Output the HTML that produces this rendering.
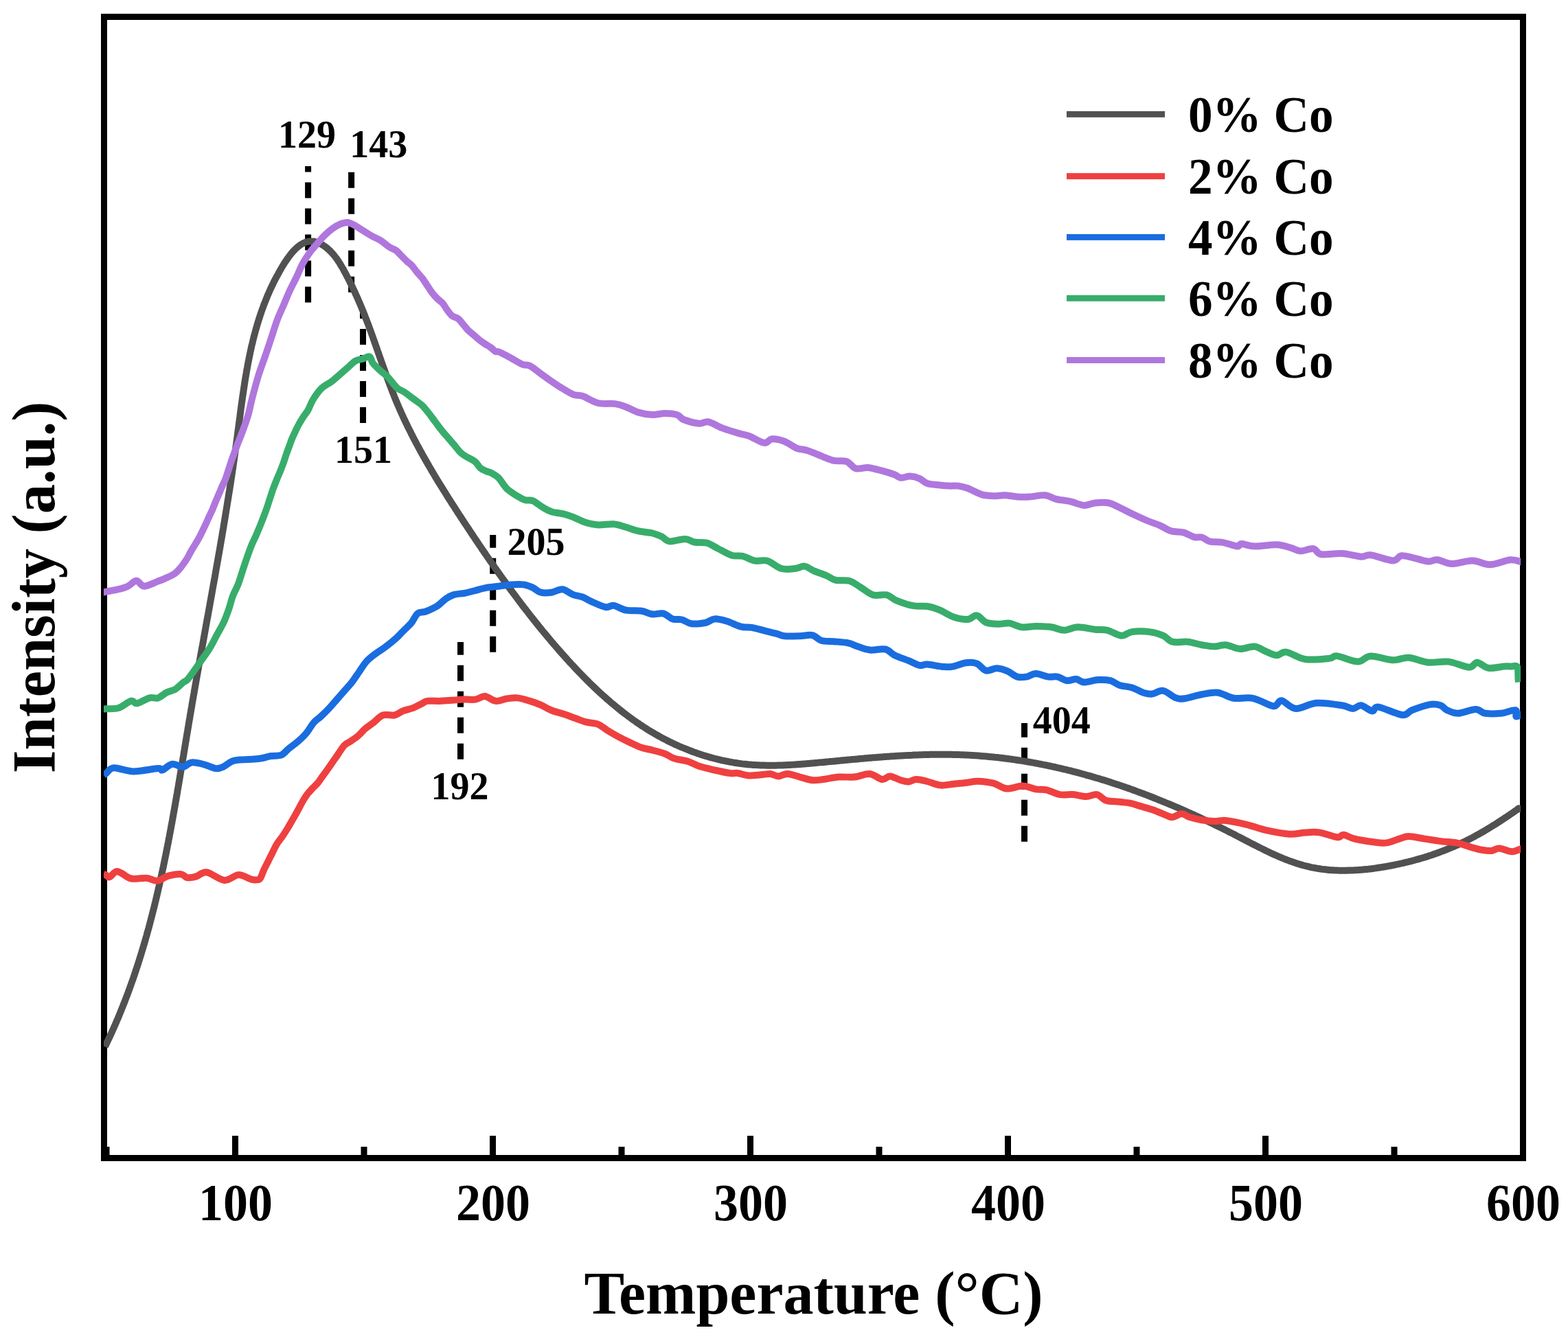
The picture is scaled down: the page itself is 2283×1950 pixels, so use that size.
<!DOCTYPE html>
<html><head><meta charset="utf-8"><title>TPR profiles</title>
<style>
html,body{margin:0;padding:0;background:#fff;overflow:hidden;}
svg{display:block;}
text{font-family:'Liberation Serif','Times New Roman',serif;font-weight:bold;fill:#000;}
</style></head><body>
<svg width="2283" height="1950" viewBox="0 0 2283 1950">
<rect x="0" y="0" width="2283" height="1950" fill="#fff"/>

<rect x="151.5" y="24.5" width="2066" height="1662" fill="none" stroke="#000" stroke-width="9"/>
<g stroke="#000" stroke-width="9" stroke-dasharray="23 15" fill="none">
<path d="M448.6,440.5 L448.6,242"/>
<path d="M511.6,425.8 L511.6,249.8"/>
<path d="M528.5,615.9 L528.5,453"/>
<path d="M670.5,1105.8 L670.5,935"/>
<path d="M717.7,949.7 L717.7,779"/>
<path d="M1491.5,1225.8 L1491.5,1053"/>
</g>
<defs><clipPath id="pc"><rect x="151" y="0" width="2063" height="1950"/></clipPath></defs>
<g fill="none" stroke-width="10" stroke-linejoin="round" stroke-linecap="square" clip-path="url(#pc)">
<path stroke="#515151" d="M155.0,1519.9 C155.3,1519.3 156.1,1517.5 156.7,1516.3 C157.3,1515.1 157.9,1513.8 158.4,1512.6 C159.0,1511.4 159.6,1510.2 160.1,1509.0 C160.7,1507.8 161.3,1506.5 161.8,1505.3 C162.4,1504.1 162.9,1502.9 163.5,1501.7 C164.0,1500.4 164.6,1499.2 165.1,1498.0 C165.7,1496.8 166.2,1495.5 166.8,1494.3 C167.3,1493.1 167.8,1491.9 168.4,1490.6 C168.9,1489.4 169.4,1488.2 170.0,1486.9 C170.5,1485.7 171.0,1484.5 171.5,1483.3 C172.0,1482.0 172.6,1480.8 173.1,1479.6 C173.6,1478.3 174.1,1477.1 174.6,1475.9 C175.1,1474.6 175.6,1473.4 176.1,1472.2 C176.6,1470.9 177.1,1469.7 177.6,1468.4 C178.1,1467.2 178.6,1466.0 179.1,1464.7 C179.6,1463.5 180.1,1462.2 180.6,1461.0 C181.1,1459.8 181.6,1458.5 182.0,1457.3 C182.5,1456.0 183.0,1454.8 183.5,1453.5 C183.9,1452.3 184.4,1451.0 184.9,1449.8 C185.4,1448.6 185.8,1447.3 186.3,1446.1 C186.8,1444.8 187.2,1443.6 187.7,1442.3 C188.1,1441.1 188.6,1439.8 189.0,1438.6 C189.5,1437.3 190.0,1436.1 190.4,1434.8 C190.8,1433.6 191.3,1432.3 191.7,1431.0 C192.2,1429.8 192.6,1428.5 193.1,1427.3 C193.5,1426.0 193.9,1424.8 194.4,1423.5 C194.8,1422.2 195.2,1421.0 195.7,1419.7 C196.1,1418.5 196.5,1417.2 196.9,1416.0 C197.4,1414.7 197.8,1413.4 198.2,1412.2 C198.6,1410.9 199.0,1409.6 199.5,1408.4 C199.9,1407.1 200.3,1405.8 200.7,1404.6 C201.1,1403.3 201.5,1402.1 201.9,1400.8 C202.3,1399.5 202.7,1398.3 203.1,1397.0 C203.5,1395.7 203.9,1394.5 204.3,1393.2 C204.7,1391.9 205.1,1390.6 205.5,1389.4 C205.9,1388.1 206.3,1386.8 206.6,1385.6 C207.0,1384.3 207.4,1383.0 207.8,1381.7 C208.2,1380.5 208.6,1379.2 208.9,1377.9 C209.3,1376.6 209.7,1375.4 210.1,1374.1 C210.4,1372.8 210.8,1371.5 211.2,1370.3 C211.5,1369.0 211.9,1367.7 212.3,1366.4 C212.6,1365.2 213.0,1363.9 213.4,1362.6 C213.7,1361.3 214.1,1360.0 214.4,1358.8 C214.8,1357.5 215.1,1356.2 215.5,1354.9 C215.9,1353.6 216.2,1352.4 216.6,1351.1 C216.9,1349.8 217.2,1348.5 217.6,1347.2 C217.9,1345.9 218.3,1344.7 218.6,1343.4 C219.0,1342.1 219.3,1340.8 219.6,1339.5 C220.0,1338.2 220.3,1336.9 220.6,1335.6 C221.0,1334.4 221.3,1333.1 221.6,1331.8 C222.0,1330.5 222.3,1329.2 222.6,1327.9 C222.9,1326.6 223.3,1325.3 223.6,1324.0 C223.9,1322.8 224.2,1321.5 224.6,1320.2 C224.9,1318.9 225.2,1317.6 225.5,1316.3 C225.8,1315.0 226.1,1313.7 226.5,1312.4 C226.8,1311.1 227.1,1309.8 227.4,1308.5 C227.7,1307.2 228.0,1306.0 228.3,1304.7 C228.6,1303.4 228.9,1302.1 229.2,1300.8 C229.5,1299.5 229.8,1298.2 230.1,1296.9 C230.4,1295.6 230.7,1294.3 231.0,1293.0 C231.3,1291.7 231.6,1290.4 231.9,1289.1 C232.2,1287.8 232.5,1286.5 232.8,1285.2 C233.1,1283.9 233.4,1282.6 233.6,1281.3 C233.9,1280.0 234.2,1278.7 234.5,1277.4 C234.8,1276.1 235.1,1274.8 235.4,1273.5 C235.6,1272.2 235.9,1270.9 236.2,1269.6 C236.5,1268.3 236.8,1267.0 237.0,1265.7 C237.3,1264.4 237.6,1263.1 237.9,1261.8 C238.1,1260.4 238.4,1259.1 238.7,1257.8 C239.0,1256.5 239.2,1255.2 239.5,1253.9 C239.8,1252.6 240.0,1251.3 240.3,1250.0 C240.6,1248.7 240.8,1247.4 241.1,1246.1 C241.4,1244.8 241.6,1243.5 241.9,1242.2 C242.1,1240.9 242.4,1239.5 242.7,1238.2 C242.9,1236.9 243.2,1235.6 243.4,1234.3 C243.7,1233.0 244.0,1231.7 244.2,1230.4 C244.5,1229.1 244.7,1227.8 245.0,1226.5 C245.2,1225.1 245.5,1223.8 245.7,1222.5 C246.0,1221.2 246.2,1219.9 246.5,1218.6 C246.7,1217.3 247.0,1216.0 247.2,1214.7 C247.5,1213.3 247.7,1212.0 248.0,1210.7 C248.2,1209.4 248.5,1208.1 248.7,1206.8 C249.0,1205.5 249.2,1204.2 249.4,1202.8 C249.7,1201.5 249.9,1200.2 250.2,1198.9 C250.4,1197.6 250.6,1196.3 250.9,1195.0 C251.1,1193.6 251.4,1192.3 251.6,1191.0 C251.8,1189.7 252.1,1188.4 252.3,1187.1 C252.5,1185.8 252.8,1184.4 253.0,1183.1 C253.2,1181.8 253.5,1180.5 253.7,1179.2 C253.9,1177.9 254.2,1176.6 254.4,1175.2 C254.6,1173.9 254.9,1172.6 255.1,1171.3 C255.3,1170.0 255.6,1168.7 255.8,1167.3 C256.0,1166.0 256.3,1164.7 256.5,1163.4 C256.7,1162.1 256.9,1160.8 257.2,1159.4 C257.4,1158.1 257.6,1156.8 257.9,1155.5 C258.1,1154.2 258.3,1152.9 258.5,1151.5 C258.8,1150.2 259.0,1148.9 259.2,1147.6 C259.4,1146.3 259.7,1145.0 259.9,1143.6 C260.1,1142.3 260.3,1141.0 260.5,1139.7 C260.8,1138.4 261.0,1137.0 261.2,1135.7 C261.4,1134.4 261.7,1133.1 261.9,1131.8 C262.1,1130.5 262.3,1129.1 262.5,1127.8 C262.8,1126.5 263.0,1125.2 263.2,1123.9 C263.4,1122.5 263.7,1121.2 263.9,1119.9 C264.1,1118.6 264.3,1117.3 264.5,1116.0 C264.7,1114.6 265.0,1113.3 265.2,1112.0 C265.4,1110.7 265.6,1109.4 265.8,1108.0 C266.1,1106.7 266.3,1105.4 266.5,1104.1 C266.7,1102.8 266.9,1101.4 267.2,1100.1 C267.4,1098.8 267.6,1097.5 267.8,1096.2 C268.0,1094.9 268.3,1093.5 268.5,1092.2 C268.7,1090.9 268.9,1089.6 269.1,1088.3 C269.3,1086.9 269.6,1085.6 269.8,1084.3 C270.0,1083.0 270.2,1081.7 270.4,1080.4 C270.7,1079.0 270.9,1077.7 271.1,1076.4 C271.3,1075.1 271.5,1073.8 271.7,1072.4 C272.0,1071.1 272.2,1069.8 272.4,1068.5 C272.6,1067.2 272.8,1065.9 273.1,1064.5 C273.3,1063.2 273.5,1061.9 273.7,1060.6 C273.9,1059.3 274.2,1058.0 274.4,1056.6 C274.6,1055.3 274.8,1054.0 275.0,1052.7 C275.3,1051.4 275.5,1050.1 275.7,1048.7 C275.9,1047.4 276.2,1046.1 276.4,1044.8 C276.6,1043.5 276.8,1042.2 277.0,1040.8 C277.3,1039.5 277.5,1038.2 277.7,1036.9 C277.9,1035.6 278.2,1034.3 278.4,1032.9 C278.6,1031.6 278.8,1030.3 279.1,1029.0 C279.3,1027.7 279.5,1026.4 279.7,1025.1 C280.0,1023.7 280.2,1022.4 280.4,1021.1 C280.6,1019.8 280.9,1018.5 281.1,1017.2 C281.3,1015.9 281.5,1014.5 281.8,1013.2 C282.0,1011.9 282.2,1010.6 282.5,1009.3 C282.7,1008.0 282.9,1006.7 283.1,1005.3 C283.4,1004.0 283.6,1002.7 283.8,1001.4 C284.1,1000.1 284.3,998.8 284.5,997.5 C284.8,996.2 285.0,994.8 285.2,993.5 C285.5,992.2 285.7,990.9 285.9,989.6 C286.1,988.3 286.4,987.0 286.6,985.7 C286.8,984.4 287.1,983.0 287.3,981.7 C287.5,980.4 287.8,979.1 288.0,977.8 C288.2,976.5 288.5,975.2 288.7,973.9 C288.9,972.5 289.2,971.2 289.4,969.9 C289.6,968.6 289.9,967.3 290.1,966.0 C290.3,964.7 290.6,963.4 290.8,962.1 C291.0,960.8 291.3,959.4 291.5,958.1 C291.8,956.8 292.0,955.5 292.2,954.2 C292.5,952.9 292.7,951.6 292.9,950.3 C293.2,949.0 293.4,947.6 293.6,946.3 C293.9,945.0 294.1,943.7 294.3,942.4 C294.6,941.1 294.8,939.8 295.1,938.5 C295.3,937.2 295.5,935.9 295.8,934.5 C296.0,933.2 296.2,931.9 296.5,930.6 C296.7,929.3 296.9,928.0 297.2,926.7 C297.4,925.4 297.7,924.1 297.9,922.8 C298.1,921.5 298.4,920.1 298.6,918.8 C298.8,917.5 299.1,916.2 299.3,914.9 C299.5,913.6 299.8,912.3 300.0,911.0 C300.3,909.7 300.5,908.4 300.7,907.1 C301.0,905.7 301.2,904.4 301.4,903.1 C301.7,901.8 301.9,900.5 302.2,899.2 C302.4,897.9 302.6,896.6 302.9,895.3 C303.1,894.0 303.3,892.7 303.6,891.3 C303.8,890.0 304.0,888.7 304.3,887.4 C304.5,886.1 304.8,884.8 305.0,883.5 C305.2,882.2 305.5,880.9 305.7,879.6 C305.9,878.3 306.2,876.9 306.4,875.6 C306.6,874.3 306.9,873.0 307.1,871.7 C307.4,870.4 307.6,869.1 307.8,867.8 C308.1,866.5 308.3,865.2 308.5,863.9 C308.8,862.5 309.0,861.2 309.2,859.9 C309.5,858.6 309.7,857.3 309.9,856.0 C310.2,854.7 310.4,853.4 310.6,852.1 C310.9,850.8 311.1,849.5 311.4,848.1 C311.6,846.8 311.8,845.5 312.1,844.2 C312.3,842.9 312.5,841.6 312.8,840.3 C313.0,839.0 313.2,837.7 313.5,836.4 C313.7,835.0 313.9,833.7 314.1,832.4 C314.4,831.1 314.6,829.8 314.8,828.5 C315.1,827.2 315.3,825.9 315.5,824.6 C315.8,823.3 316.0,821.9 316.2,820.6 C316.5,819.3 316.7,818.0 316.9,816.7 C317.2,815.4 317.4,814.1 317.6,812.8 C317.8,811.5 318.1,810.2 318.3,808.8 C318.5,807.5 318.8,806.2 319.0,804.9 C319.2,803.6 319.4,802.3 319.7,801.0 C319.9,799.7 320.1,798.4 320.4,797.0 C320.6,795.7 320.8,794.4 321.0,793.1 C321.3,791.8 321.5,790.5 321.7,789.2 C321.9,787.9 322.2,786.6 322.4,785.2 C322.6,783.9 322.8,782.6 323.1,781.3 C323.3,780.0 323.5,778.7 323.7,777.4 C323.9,776.1 324.2,774.7 324.4,773.4 C324.6,772.1 324.8,770.8 325.1,769.5 C325.3,768.2 325.5,766.9 325.7,765.5 C325.9,764.2 326.2,762.9 326.4,761.6 C326.6,760.3 326.8,759.0 327.0,757.7 C327.3,756.4 327.5,755.0 327.7,753.7 C327.9,752.4 328.1,751.1 328.3,749.8 C328.6,748.5 328.8,747.2 329.0,745.8 C329.2,744.5 329.4,743.2 329.6,741.9 C329.8,740.6 330.1,739.3 330.3,737.9 C330.5,736.6 330.7,735.3 330.9,734.0 C331.1,732.7 331.3,731.4 331.5,730.1 C331.8,728.7 332.0,727.4 332.2,726.1 C332.4,724.8 332.6,723.5 332.8,722.2 C333.0,720.8 333.2,719.5 333.4,718.2 C333.6,716.9 333.8,715.6 334.1,714.3 C334.3,712.9 334.5,711.6 334.7,710.3 C334.9,709.0 335.1,707.7 335.3,706.3 C335.5,705.0 335.7,703.7 335.9,702.4 C336.1,701.1 336.3,699.7 336.5,698.4 C336.7,697.1 336.9,695.8 337.1,694.5 C337.3,693.2 337.5,691.8 337.7,690.5 C337.9,689.2 338.1,687.9 338.3,686.5 C338.5,685.2 338.7,683.9 338.9,682.6 C339.1,681.3 339.3,679.9 339.5,678.6 C339.7,677.3 339.9,676.0 340.0,674.7 C340.2,673.3 340.4,672.0 340.6,670.7 C340.8,669.4 341.0,668.0 341.2,666.7 C341.4,665.4 341.6,664.1 341.8,662.8 C341.9,661.4 342.1,660.1 342.3,658.8 C342.5,657.5 342.7,656.1 342.9,654.8 C343.1,653.5 343.2,652.2 343.4,650.8 C343.6,649.5 343.8,648.2 344.0,646.9 C344.2,645.5 344.3,644.2 344.5,642.9 C344.7,641.6 344.9,640.2 345.1,638.9 C345.2,637.6 345.4,636.2 345.6,634.9 C345.8,633.6 345.9,632.3 346.1,630.9 C346.3,629.6 346.5,628.3 346.6,627.0 C346.8,625.6 347.0,624.3 347.2,623.0 C347.3,621.6 347.5,620.3 347.7,619.0 C347.9,617.7 348.0,616.3 348.2,615.0 C348.4,613.7 348.6,612.3 348.7,611.0 C348.9,609.7 349.1,608.4 349.3,607.0 C349.4,605.7 349.6,604.4 349.8,603.0 C350.0,601.7 350.1,600.4 350.3,599.1 C350.5,597.7 350.7,596.4 350.8,595.1 C351.0,593.7 351.2,592.4 351.4,591.1 C351.6,589.8 351.7,588.4 351.9,587.1 C352.1,585.8 352.3,584.5 352.5,583.1 C352.7,581.8 352.8,580.5 353.0,579.1 C353.2,577.8 353.4,576.5 353.6,575.2 C353.8,573.8 354.0,572.5 354.2,571.2 C354.4,569.9 354.6,568.5 354.8,567.2 C355.0,565.9 355.2,564.6 355.4,563.3 C355.6,561.9 355.8,560.6 356.0,559.3 C356.2,558.0 356.4,556.6 356.6,555.3 C356.8,554.0 357.0,552.7 357.2,551.4 C357.5,550.1 357.7,548.7 357.9,547.4 C358.1,546.1 358.3,544.8 358.6,543.5 C358.8,542.2 359.0,540.8 359.2,539.5 C359.5,538.2 359.7,536.9 360.0,535.6 C360.2,534.3 360.4,533.0 360.7,531.6 C360.9,530.3 361.2,529.0 361.4,527.7 C361.7,526.4 361.9,525.1 362.2,523.8 C362.4,522.5 362.7,521.2 363.0,519.9 C363.2,518.6 363.5,517.3 363.8,516.0 C364.1,514.6 364.3,513.3 364.6,512.0 C364.9,510.7 365.2,509.4 365.5,508.1 C365.8,506.8 366.0,505.5 366.3,504.2 C366.6,502.9 366.9,501.7 367.3,500.4 C367.6,499.1 367.9,497.8 368.2,496.5 C368.5,495.2 368.8,493.9 369.1,492.6 C369.5,491.3 369.8,490.0 370.1,488.7 C370.5,487.4 370.8,486.2 371.2,484.9 C371.5,483.6 371.9,482.3 372.2,481.0 C372.6,479.7 372.9,478.5 373.3,477.2 C373.7,475.9 374.0,474.6 374.4,473.4 C374.8,472.1 375.2,470.8 375.6,469.5 C375.9,468.3 376.3,467.0 376.7,465.7 C377.1,464.4 377.5,463.2 378.0,461.9 C378.4,460.6 378.8,459.4 379.2,458.1 C379.6,456.8 380.1,455.6 380.5,454.3 C380.9,453.1 381.4,451.8 381.8,450.5 C382.3,449.3 382.7,448.0 383.2,446.8 C383.7,445.5 384.1,444.3 384.6,443.0 C385.1,441.8 385.6,440.5 386.1,439.3 C386.6,438.0 387.1,436.8 387.6,435.5 C388.1,434.3 388.6,433.1 389.1,431.8 C389.6,430.6 390.1,429.3 390.7,428.1 C391.2,426.9 391.7,425.6 392.3,424.4 C392.8,423.2 393.4,422.0 394.0,420.7 C394.5,419.5 395.1,418.3 395.7,417.1 C396.2,415.8 396.8,414.6 397.4,413.4 C398.0,412.2 398.6,411.0 399.2,409.7 C399.8,408.5 400.5,407.3 401.1,406.1 C401.7,404.9 402.4,403.7 403.0,402.5 C403.6,401.3 404.3,400.1 405.0,398.9 C405.6,397.7 406.3,396.5 407.0,395.3 C407.6,394.1 408.3,392.9 409.0,391.7 C409.7,390.5 410.4,389.3 411.2,388.1 C411.9,387.0 412.6,385.8 413.3,384.6 C414.1,383.4 414.8,382.3 415.5,381.1 C416.3,380.0 417.1,378.8 417.8,377.7 C418.6,376.6 419.4,375.5 420.2,374.4 C421.0,373.3 421.8,372.3 422.6,371.2 C423.4,370.2 424.2,369.2 425.0,368.2 C425.9,367.2 426.7,366.3 427.5,365.4 C428.4,364.4 429.2,363.6 430.1,362.7 C431.0,361.9 431.9,361.0 432.8,360.3 C433.6,359.5 434.5,358.8 435.5,358.1 C436.4,357.4 437.3,356.7 438.2,356.2 C439.1,355.6 440.1,355.0 441.0,354.5 C442.0,354.0 443.0,353.6 443.9,353.2 C444.9,352.8 445.9,352.5 446.9,352.2 C447.9,352.0 448.9,351.8 449.9,351.6 C450.9,351.5 452.0,351.4 453.0,351.4 C454.0,351.4 455.1,351.4 456.2,351.6 C457.2,351.7 458.3,351.9 459.4,352.2 C460.5,352.5 461.6,352.8 462.7,353.2 C463.8,353.7 464.9,354.1 466.0,354.7 C467.1,355.2 468.2,355.8 469.3,356.5 C470.4,357.1 471.4,357.9 472.5,358.6 C473.6,359.4 474.7,360.2 475.7,361.0 C476.8,361.9 477.8,362.8 478.8,363.7 C479.8,364.6 480.8,365.6 481.7,366.6 C482.7,367.5 483.6,368.6 484.5,369.6 C485.5,370.7 486.3,371.7 487.2,372.8 C488.1,373.9 488.9,375.1 489.7,376.2 C490.6,377.3 491.4,378.5 492.2,379.7 C493.0,380.8 493.7,382.0 494.5,383.2 C495.2,384.5 496.0,385.7 496.7,386.9 C497.5,388.1 498.2,389.4 498.9,390.6 C499.6,391.8 500.3,393.1 501.0,394.4 C501.7,395.6 502.3,396.9 503.0,398.1 C503.7,399.4 504.3,400.6 505.0,401.9 C505.7,403.1 506.3,404.4 507.0,405.6 C507.6,406.9 508.2,408.1 508.9,409.4 C509.5,410.6 510.1,411.9 510.7,413.1 C511.4,414.4 512.0,415.6 512.6,416.9 C513.2,418.2 513.8,419.4 514.4,420.7 C515.0,421.9 515.5,423.2 516.1,424.4 C516.7,425.7 517.3,426.9 517.8,428.2 C518.4,429.4 519.0,430.7 519.5,432.0 C520.1,433.2 520.7,434.5 521.2,435.7 C521.7,437.0 522.3,438.2 522.8,439.5 C523.4,440.7 523.9,442.0 524.4,443.2 C525.0,444.5 525.5,445.8 526.0,447.0 C526.5,448.3 527.0,449.5 527.6,450.8 C528.1,452.0 528.6,453.3 529.1,454.5 C529.6,455.8 530.1,457.0 530.6,458.3 C531.1,459.6 531.6,460.8 532.0,462.1 C532.5,463.3 533.0,464.6 533.5,465.8 C534.0,467.1 534.5,468.3 534.9,469.6 C535.4,470.8 535.9,472.1 536.4,473.3 C536.8,474.6 537.3,475.8 537.8,477.1 C538.2,478.3 538.7,479.6 539.1,480.8 C539.6,482.1 540.1,483.3 540.5,484.6 C541.0,485.8 541.4,487.1 541.9,488.3 C542.3,489.6 542.8,490.8 543.2,492.1 C543.7,493.3 544.1,494.6 544.5,495.8 C545.0,497.1 545.4,498.3 545.9,499.6 C546.3,500.8 546.8,502.1 547.2,503.3 C547.6,504.6 548.1,505.8 548.5,507.1 C548.9,508.3 549.4,509.5 549.8,510.8 C550.3,512.0 550.7,513.3 551.1,514.5 C551.6,515.8 552.0,517.0 552.4,518.2 C552.9,519.5 553.3,520.7 553.7,522.0 C554.2,523.2 554.6,524.5 555.0,525.7 C555.5,526.9 555.9,528.2 556.3,529.4 C556.8,530.6 557.2,531.9 557.7,533.1 C558.1,534.4 558.5,535.6 559.0,536.8 C559.4,538.1 559.8,539.3 560.3,540.5 C560.7,541.8 561.2,543.0 561.6,544.2 C562.1,545.5 562.5,546.7 563.0,547.9 C563.4,549.2 563.9,550.4 564.3,551.6 C564.8,552.8 565.2,554.1 565.7,555.3 C566.1,556.5 566.6,557.8 567.0,559.0 C567.5,560.2 568.0,561.4 568.4,562.7 C568.9,563.9 569.4,565.1 569.8,566.3 C570.3,567.6 570.8,568.8 571.2,570.0 C571.7,571.2 572.2,572.4 572.7,573.7 C573.2,574.9 573.7,576.1 574.1,577.3 C574.6,578.5 575.1,579.7 575.6,581.0 C576.1,582.2 576.6,583.4 577.1,584.6 C577.6,585.8 578.1,587.0 578.6,588.2 C579.2,589.4 579.7,590.7 580.2,591.9 C580.7,593.1 581.2,594.3 581.8,595.5 C582.3,596.7 582.8,597.9 583.4,599.1 C583.9,600.3 584.4,601.5 585.0,602.7 C585.5,603.9 586.1,605.1 586.6,606.3 C587.2,607.5 587.7,608.7 588.3,609.9 C588.9,611.1 589.4,612.3 590.0,613.5 C590.6,614.7 591.1,615.9 591.7,617.1 C592.3,618.3 592.9,619.5 593.4,620.7 C594.0,621.9 594.6,623.0 595.2,624.2 C595.8,625.4 596.4,626.6 597.0,627.8 C597.6,629.0 598.2,630.2 598.8,631.4 C599.4,632.6 600.0,633.7 600.6,634.9 C601.2,636.1 601.8,637.3 602.4,638.5 C603.0,639.7 603.6,640.8 604.3,642.0 C604.9,643.2 605.5,644.4 606.1,645.5 C606.8,646.7 607.4,647.9 608.0,649.1 C608.7,650.3 609.3,651.4 609.9,652.6 C610.6,653.8 611.2,655.0 611.8,656.1 C612.5,657.3 613.1,658.5 613.8,659.6 C614.4,660.8 615.1,662.0 615.7,663.1 C616.4,664.3 617.0,665.5 617.7,666.6 C618.4,667.8 619.0,669.0 619.7,670.1 C620.4,671.3 621.0,672.5 621.7,673.6 C622.4,674.8 623.0,676.0 623.7,677.1 C624.4,678.3 625.0,679.4 625.7,680.6 C626.4,681.8 627.1,682.9 627.8,684.1 C628.4,685.2 629.1,686.4 629.8,687.5 C630.5,688.7 631.2,689.9 631.9,691.0 C632.6,692.2 633.3,693.3 633.9,694.5 C634.6,695.6 635.3,696.8 636.0,697.9 C636.7,699.1 637.4,700.2 638.1,701.4 C638.8,702.5 639.5,703.7 640.2,704.8 C640.9,706.0 641.6,707.1 642.4,708.3 C643.1,709.4 643.8,710.5 644.5,711.7 C645.2,712.8 645.9,714.0 646.6,715.1 C647.3,716.3 648.0,717.4 648.8,718.5 C649.5,719.7 650.2,720.8 650.9,722.0 C651.6,723.1 652.3,724.2 653.1,725.4 C653.8,726.5 654.5,727.6 655.2,728.8 C655.9,729.9 656.7,731.0 657.4,732.2 C658.1,733.3 658.8,734.4 659.6,735.6 C660.3,736.7 661.0,737.8 661.8,739.0 C662.5,740.1 663.2,741.2 663.9,742.4 C664.7,743.5 665.4,744.6 666.1,745.7 C666.9,746.9 667.6,748.0 668.3,749.1 C669.1,750.2 669.8,751.4 670.5,752.5 C671.3,753.6 672.0,754.7 672.7,755.9 C673.5,757.0 674.2,758.1 674.9,759.2 C675.7,760.3 676.4,761.5 677.1,762.6 C677.9,763.7 678.6,764.8 679.4,765.9 C680.1,767.0 680.8,768.2 681.6,769.3 C682.3,770.4 683.0,771.5 683.8,772.6 C684.5,773.7 685.3,774.9 686.0,776.0 C686.7,777.1 687.5,778.2 688.2,779.3 C689.0,780.4 689.7,781.5 690.5,782.6 C691.2,783.7 691.9,784.9 692.7,786.0 C693.4,787.1 694.2,788.2 694.9,789.3 C695.7,790.4 696.4,791.5 697.1,792.6 C697.9,793.7 698.6,794.8 699.4,795.9 C700.1,797.0 700.9,798.1 701.6,799.2 C702.4,800.3 703.1,801.4 703.9,802.5 C704.6,803.6 705.4,804.7 706.1,805.8 C706.9,806.9 707.6,808.0 708.4,809.1 C709.1,810.2 709.9,811.3 710.6,812.4 C711.4,813.5 712.2,814.6 712.9,815.7 C713.7,816.8 714.4,817.8 715.2,818.9 C715.9,820.0 716.7,821.1 717.5,822.2 C718.2,823.3 719.0,824.4 719.7,825.5 C720.5,826.6 721.3,827.6 722.0,828.7 C722.8,829.8 723.6,830.9 724.3,832.0 C725.1,833.1 725.9,834.1 726.6,835.2 C727.4,836.3 728.2,837.4 728.9,838.5 C729.7,839.5 730.5,840.6 731.2,841.7 C732.0,842.8 732.8,843.8 733.6,844.9 C734.3,846.0 735.1,847.1 735.9,848.1 C736.7,849.2 737.4,850.3 738.2,851.4 C739.0,852.4 739.8,853.5 740.5,854.6 C741.3,855.6 742.1,856.7 742.9,857.8 C743.7,858.8 744.5,859.9 745.2,861.0 C746.0,862.0 746.8,863.1 747.6,864.2 C748.4,865.2 749.2,866.3 750.0,867.4 C750.8,868.4 751.6,869.5 752.3,870.5 C753.1,871.6 753.9,872.7 754.7,873.7 C755.5,874.8 756.3,875.8 757.1,876.9 C757.9,877.9 758.7,879.0 759.5,880.0 C760.3,881.1 761.1,882.1 761.9,883.2 C762.7,884.3 763.5,885.3 764.4,886.3 C765.2,887.4 766.0,888.4 766.8,889.5 C767.6,890.5 768.4,891.6 769.2,892.6 C770.0,893.7 770.8,894.7 771.7,895.8 C772.5,896.8 773.3,897.8 774.1,898.9 C774.9,899.9 775.8,901.0 776.6,902.0 C777.4,903.0 778.2,904.1 779.1,905.1 C779.9,906.1 780.7,907.2 781.5,908.2 C782.4,909.2 783.2,910.3 784.0,911.3 C784.9,912.3 785.7,913.4 786.5,914.4 C787.4,915.4 788.2,916.4 789.0,917.5 C789.9,918.5 790.7,919.5 791.6,920.6 C792.4,921.6 793.3,922.6 794.1,923.6 C795.0,924.6 795.8,925.7 796.7,926.7 C797.5,927.7 798.4,928.7 799.2,929.7 C800.1,930.8 800.9,931.8 801.8,932.8 C802.6,933.8 803.5,934.8 804.4,935.8 C805.2,936.8 806.1,937.8 807.0,938.9 C807.8,939.9 808.7,940.9 809.6,941.9 C810.4,942.9 811.3,943.9 812.2,944.9 C813.1,945.9 813.9,946.9 814.8,947.9 C815.7,948.9 816.6,949.9 817.4,950.9 C818.3,951.9 819.2,952.9 820.1,953.9 C821.0,954.9 821.9,955.9 822.8,956.9 C823.7,957.9 824.6,958.9 825.4,959.9 C826.3,960.9 827.2,961.9 828.1,962.8 C829.0,963.8 829.9,964.8 830.8,965.8 C831.8,966.8 832.7,967.8 833.6,968.7 C834.5,969.7 835.4,970.7 836.3,971.7 C837.2,972.7 838.1,973.6 839.0,974.6 C840.0,975.6 840.9,976.5 841.8,977.5 C842.7,978.5 843.7,979.4 844.6,980.4 C845.5,981.4 846.4,982.3 847.4,983.3 C848.3,984.2 849.3,985.2 850.2,986.1 C851.1,987.1 852.1,988.1 853.0,989.0 C854.0,989.9 854.9,990.9 855.9,991.8 C856.8,992.8 857.8,993.7 858.7,994.7 C859.7,995.6 860.6,996.5 861.6,997.5 C862.5,998.4 863.5,999.3 864.5,1000.2 C865.4,1001.2 866.4,1002.1 867.4,1003.0 C868.3,1003.9 869.3,1004.8 870.3,1005.7 C871.3,1006.7 872.2,1007.6 873.2,1008.5 C874.2,1009.4 875.2,1010.3 876.2,1011.2 C877.2,1012.1 878.2,1013.0 879.2,1013.9 C880.1,1014.8 881.1,1015.6 882.1,1016.5 C883.1,1017.4 884.1,1018.3 885.2,1019.2 C886.2,1020.0 887.2,1020.9 888.2,1021.8 C889.2,1022.6 890.2,1023.5 891.2,1024.4 C892.2,1025.2 893.3,1026.1 894.3,1026.9 C895.3,1027.8 896.3,1028.6 897.4,1029.5 C898.4,1030.3 899.4,1031.2 900.5,1032.0 C901.5,1032.8 902.5,1033.7 903.6,1034.5 C904.6,1035.3 905.7,1036.2 906.7,1037.0 C907.8,1037.8 908.8,1038.6 909.9,1039.4 C910.9,1040.2 912.0,1041.0 913.1,1041.8 C914.1,1042.6 915.2,1043.4 916.3,1044.2 C917.3,1045.0 918.4,1045.8 919.5,1046.6 C920.6,1047.3 921.6,1048.1 922.7,1048.9 C923.8,1049.6 924.9,1050.4 926.0,1051.2 C927.1,1051.9 928.2,1052.7 929.3,1053.4 C930.4,1054.2 931.5,1054.9 932.6,1055.7 C933.7,1056.4 934.8,1057.1 935.9,1057.9 C937.0,1058.6 938.1,1059.3 939.3,1060.0 C940.4,1060.7 941.5,1061.5 942.6,1062.2 C943.7,1062.9 944.9,1063.6 946.0,1064.3 C947.1,1065.0 948.3,1065.6 949.4,1066.3 C950.6,1067.0 951.7,1067.7 952.9,1068.4 C954.0,1069.0 955.2,1069.7 956.3,1070.3 C957.5,1071.0 958.6,1071.7 959.8,1072.3 C961.0,1073.0 962.1,1073.6 963.3,1074.2 C964.5,1074.9 965.7,1075.5 966.9,1076.1 C968.0,1076.7 969.2,1077.3 970.4,1077.9 C971.6,1078.6 972.8,1079.2 974.0,1079.8 C975.2,1080.3 976.4,1080.9 977.6,1081.5 C978.8,1082.1 980.0,1082.7 981.2,1083.2 C982.4,1083.8 983.6,1084.4 984.9,1084.9 C986.1,1085.5 987.3,1086.0 988.5,1086.6 C989.8,1087.1 991.0,1087.6 992.2,1088.2 C993.5,1088.7 994.7,1089.2 995.9,1089.7 C997.2,1090.2 998.4,1090.7 999.7,1091.2 C1000.9,1091.7 1002.2,1092.2 1003.4,1092.7 C1004.7,1093.2 1005.9,1093.7 1007.2,1094.1 C1008.4,1094.6 1009.7,1095.1 1011.0,1095.5 C1012.2,1096.0 1013.5,1096.4 1014.8,1096.9 C1016.0,1097.3 1017.3,1097.7 1018.6,1098.2 C1019.8,1098.6 1021.1,1099.0 1022.4,1099.4 C1023.7,1099.8 1025.0,1100.2 1026.2,1100.6 C1027.5,1101.0 1028.8,1101.4 1030.1,1101.8 C1031.4,1102.2 1032.7,1102.5 1034.0,1102.9 C1035.3,1103.3 1036.5,1103.6 1037.8,1104.0 C1039.1,1104.3 1040.4,1104.6 1041.7,1105.0 C1043.0,1105.3 1044.3,1105.6 1045.6,1105.9 C1046.9,1106.2 1048.2,1106.6 1049.5,1106.9 C1050.8,1107.2 1052.1,1107.4 1053.4,1107.7 C1054.7,1108.0 1056.0,1108.3 1057.3,1108.5 C1058.7,1108.8 1060.0,1109.1 1061.3,1109.3 C1062.6,1109.6 1063.9,1109.8 1065.2,1110.0 C1066.5,1110.3 1067.8,1110.5 1069.1,1110.7 C1070.4,1110.9 1071.8,1111.1 1073.1,1111.3 C1074.4,1111.5 1075.7,1111.7 1077.0,1111.9 C1078.3,1112.1 1079.6,1112.2 1080.9,1112.4 C1082.3,1112.5 1083.6,1112.7 1084.9,1112.8 C1086.2,1113.0 1087.5,1113.1 1088.8,1113.2 C1090.1,1113.4 1091.5,1113.5 1092.8,1113.6 C1094.1,1113.7 1095.4,1113.8 1096.7,1113.9 C1098.0,1114.0 1099.3,1114.1 1100.6,1114.1 C1102.0,1114.2 1103.3,1114.3 1104.6,1114.3 C1105.9,1114.4 1107.2,1114.5 1108.5,1114.5 C1109.8,1114.6 1111.2,1114.6 1112.5,1114.6 C1113.8,1114.7 1115.1,1114.7 1116.4,1114.7 C1117.7,1114.7 1119.0,1114.7 1120.4,1114.7 C1121.7,1114.7 1123.0,1114.7 1124.3,1114.7 C1125.6,1114.7 1126.9,1114.7 1128.3,1114.7 C1129.6,1114.7 1130.9,1114.6 1132.2,1114.6 C1133.5,1114.6 1134.8,1114.5 1136.2,1114.5 C1137.5,1114.5 1138.8,1114.4 1140.1,1114.4 C1141.4,1114.3 1142.7,1114.3 1144.1,1114.2 C1145.4,1114.1 1146.7,1114.1 1148.0,1114.0 C1149.3,1113.9 1150.6,1113.9 1152.0,1113.8 C1153.3,1113.7 1154.6,1113.6 1155.9,1113.6 C1157.2,1113.5 1158.6,1113.4 1159.9,1113.3 C1161.2,1113.2 1162.5,1113.1 1163.8,1113.0 C1165.2,1112.9 1166.5,1112.8 1167.8,1112.7 C1169.1,1112.6 1170.5,1112.5 1171.8,1112.4 C1173.1,1112.3 1174.4,1112.2 1175.7,1112.1 C1177.1,1111.9 1178.4,1111.8 1179.7,1111.7 C1181.0,1111.6 1182.4,1111.5 1183.7,1111.4 C1185.0,1111.2 1186.3,1111.1 1187.7,1111.0 C1189.0,1110.9 1190.3,1110.8 1191.6,1110.6 C1193.0,1110.5 1194.3,1110.4 1195.6,1110.3 C1197.0,1110.1 1198.3,1110.0 1199.6,1109.9 C1200.9,1109.8 1202.3,1109.6 1203.6,1109.5 C1204.9,1109.4 1206.3,1109.3 1207.6,1109.1 C1208.9,1109.0 1210.3,1108.9 1211.6,1108.8 C1212.9,1108.6 1214.3,1108.5 1215.6,1108.4 C1216.9,1108.3 1218.3,1108.1 1219.6,1108.0 C1220.9,1107.9 1222.3,1107.8 1223.6,1107.6 C1224.9,1107.5 1226.3,1107.4 1227.6,1107.2 C1228.9,1107.1 1230.3,1107.0 1231.6,1106.9 C1232.9,1106.7 1234.3,1106.6 1235.6,1106.5 C1237.0,1106.4 1238.3,1106.3 1239.6,1106.1 C1241.0,1106.0 1242.3,1105.9 1243.6,1105.8 C1245.0,1105.6 1246.3,1105.5 1247.7,1105.4 C1249.0,1105.3 1250.3,1105.2 1251.7,1105.0 C1253.0,1104.9 1254.4,1104.8 1255.7,1104.7 C1257.0,1104.6 1258.4,1104.5 1259.7,1104.3 C1261.1,1104.2 1262.4,1104.1 1263.7,1104.0 C1265.1,1103.9 1266.4,1103.8 1267.8,1103.7 C1269.1,1103.5 1270.5,1103.4 1271.8,1103.3 C1273.1,1103.2 1274.5,1103.1 1275.8,1103.0 C1277.2,1102.9 1278.5,1102.8 1279.8,1102.7 C1281.2,1102.6 1282.5,1102.5 1283.9,1102.4 C1285.2,1102.3 1286.6,1102.2 1287.9,1102.1 C1289.2,1102.0 1290.6,1101.9 1291.9,1101.8 C1293.3,1101.7 1294.6,1101.6 1296.0,1101.5 C1297.3,1101.4 1298.6,1101.3 1300.0,1101.2 C1301.3,1101.2 1302.7,1101.1 1304.0,1101.0 C1305.4,1100.9 1306.7,1100.8 1308.0,1100.7 C1309.4,1100.7 1310.7,1100.6 1312.1,1100.5 C1313.4,1100.4 1314.8,1100.4 1316.1,1100.3 C1317.4,1100.2 1318.8,1100.1 1320.1,1100.1 C1321.5,1100.0 1322.8,1099.9 1324.2,1099.9 C1325.5,1099.8 1326.8,1099.7 1328.2,1099.7 C1329.5,1099.6 1330.9,1099.6 1332.2,1099.5 C1333.5,1099.5 1334.9,1099.4 1336.2,1099.4 C1337.6,1099.3 1338.9,1099.3 1340.3,1099.2 C1341.6,1099.2 1342.9,1099.1 1344.3,1099.1 C1345.6,1099.0 1347.0,1099.0 1348.3,1099.0 C1349.6,1098.9 1351.0,1098.9 1352.3,1098.9 C1353.7,1098.9 1355.0,1098.8 1356.3,1098.8 C1357.7,1098.8 1359.0,1098.8 1360.3,1098.7 C1361.7,1098.7 1363.0,1098.7 1364.4,1098.7 C1365.7,1098.7 1367.0,1098.7 1368.4,1098.7 C1369.7,1098.7 1371.0,1098.7 1372.4,1098.7 C1373.7,1098.7 1375.1,1098.7 1376.4,1098.7 C1377.7,1098.7 1379.1,1098.7 1380.4,1098.7 C1381.7,1098.7 1383.1,1098.8 1384.4,1098.8 C1385.7,1098.8 1387.1,1098.8 1388.4,1098.9 C1389.7,1098.9 1391.1,1098.9 1392.4,1099.0 C1393.7,1099.0 1395.1,1099.0 1396.4,1099.1 C1397.7,1099.1 1399.0,1099.2 1400.4,1099.2 C1401.7,1099.3 1403.0,1099.3 1404.4,1099.4 C1405.7,1099.5 1407.0,1099.5 1408.4,1099.6 C1409.7,1099.6 1411.0,1099.7 1412.3,1099.8 C1413.7,1099.9 1415.0,1099.9 1416.3,1100.0 C1417.6,1100.1 1419.0,1100.2 1420.3,1100.3 C1421.6,1100.4 1422.9,1100.5 1424.3,1100.6 C1425.6,1100.7 1426.9,1100.8 1428.2,1100.9 C1429.6,1101.0 1430.9,1101.1 1432.2,1101.2 C1433.5,1101.3 1434.8,1101.4 1436.2,1101.5 C1437.5,1101.6 1438.8,1101.8 1440.1,1101.9 C1441.4,1102.0 1442.8,1102.1 1444.1,1102.3 C1445.4,1102.4 1446.7,1102.5 1448.0,1102.7 C1449.3,1102.8 1450.7,1103.0 1452.0,1103.1 C1453.3,1103.2 1454.6,1103.4 1455.9,1103.6 C1457.2,1103.7 1458.6,1103.9 1459.9,1104.0 C1461.2,1104.2 1462.5,1104.3 1463.8,1104.5 C1465.1,1104.7 1466.4,1104.8 1467.7,1105.0 C1469.1,1105.2 1470.4,1105.4 1471.7,1105.6 C1473.0,1105.7 1474.3,1105.9 1475.6,1106.1 C1476.9,1106.3 1478.2,1106.5 1479.5,1106.7 C1480.8,1106.9 1482.1,1107.1 1483.5,1107.3 C1484.8,1107.5 1486.1,1107.7 1487.4,1107.9 C1488.7,1108.1 1490.0,1108.3 1491.3,1108.5 C1492.6,1108.7 1493.9,1108.9 1495.2,1109.2 C1496.5,1109.4 1497.8,1109.6 1499.1,1109.8 C1500.4,1110.1 1501.7,1110.3 1503.0,1110.5 C1504.3,1110.8 1505.6,1111.0 1506.9,1111.2 C1508.2,1111.5 1509.5,1111.7 1510.8,1112.0 C1512.1,1112.2 1513.4,1112.5 1514.7,1112.7 C1516.0,1113.0 1517.3,1113.2 1518.6,1113.5 C1519.9,1113.8 1521.2,1114.0 1522.5,1114.3 C1523.8,1114.5 1525.1,1114.8 1526.4,1115.1 C1527.7,1115.4 1529.0,1115.6 1530.3,1115.9 C1531.5,1116.2 1532.8,1116.5 1534.1,1116.8 C1535.4,1117.0 1536.7,1117.3 1538.0,1117.6 C1539.3,1117.9 1540.6,1118.2 1541.9,1118.5 C1543.2,1118.8 1544.4,1119.1 1545.7,1119.4 C1547.0,1119.7 1548.3,1120.0 1549.6,1120.3 C1550.9,1120.6 1552.2,1120.9 1553.5,1121.2 C1554.7,1121.6 1556.0,1121.9 1557.3,1122.2 C1558.6,1122.5 1559.9,1122.8 1561.2,1123.2 C1562.4,1123.5 1563.7,1123.8 1565.0,1124.2 C1566.3,1124.5 1567.6,1124.8 1568.8,1125.2 C1570.1,1125.5 1571.4,1125.8 1572.7,1126.2 C1574.0,1126.5 1575.2,1126.9 1576.5,1127.2 C1577.8,1127.6 1579.1,1127.9 1580.4,1128.3 C1581.6,1128.6 1582.9,1129.0 1584.2,1129.4 C1585.5,1129.7 1586.7,1130.1 1588.0,1130.4 C1589.3,1130.8 1590.6,1131.2 1591.8,1131.6 C1593.1,1131.9 1594.4,1132.3 1595.6,1132.7 C1596.9,1133.1 1598.2,1133.4 1599.5,1133.8 C1600.7,1134.2 1602.0,1134.6 1603.3,1135.0 C1604.5,1135.4 1605.8,1135.7 1607.1,1136.1 C1608.3,1136.5 1609.6,1136.9 1610.9,1137.3 C1612.1,1137.7 1613.4,1138.1 1614.7,1138.5 C1615.9,1138.9 1617.2,1139.3 1618.5,1139.8 C1619.7,1140.2 1621.0,1140.6 1622.2,1141.0 C1623.5,1141.4 1624.8,1141.8 1626.0,1142.2 C1627.3,1142.7 1628.5,1143.1 1629.8,1143.5 C1631.1,1143.9 1632.3,1144.4 1633.6,1144.8 C1634.8,1145.2 1636.1,1145.6 1637.3,1146.1 C1638.6,1146.5 1639.9,1147.0 1641.1,1147.4 C1642.4,1147.8 1643.6,1148.3 1644.9,1148.7 C1646.1,1149.2 1647.4,1149.6 1648.6,1150.1 C1649.9,1150.5 1651.1,1151.0 1652.4,1151.4 C1653.6,1151.9 1654.9,1152.3 1656.1,1152.8 C1657.4,1153.3 1658.6,1153.7 1659.9,1154.2 C1661.1,1154.6 1662.4,1155.1 1663.6,1155.6 C1664.9,1156.0 1666.1,1156.5 1667.4,1157.0 C1668.6,1157.5 1669.9,1157.9 1671.1,1158.4 C1672.3,1158.9 1673.6,1159.4 1674.8,1159.9 C1676.1,1160.3 1677.3,1160.8 1678.6,1161.3 C1679.8,1161.8 1681.0,1162.3 1682.3,1162.8 C1683.5,1163.3 1684.8,1163.8 1686.0,1164.3 C1687.2,1164.8 1688.5,1165.3 1689.7,1165.8 C1690.9,1166.3 1692.2,1166.8 1693.4,1167.3 C1694.6,1167.8 1695.9,1168.3 1697.1,1168.8 C1698.4,1169.3 1699.6,1169.8 1700.8,1170.3 C1702.0,1170.8 1703.3,1171.4 1704.5,1171.9 C1705.7,1172.4 1707.0,1172.9 1708.2,1173.4 C1709.4,1174.0 1710.7,1174.5 1711.9,1175.0 C1713.1,1175.5 1714.3,1176.1 1715.6,1176.6 C1716.8,1177.1 1718.0,1177.7 1719.2,1178.2 C1720.5,1178.7 1721.7,1179.3 1722.9,1179.8 C1724.1,1180.3 1725.4,1180.9 1726.6,1181.4 C1727.8,1182.0 1729.0,1182.5 1730.2,1183.1 C1731.5,1183.6 1732.7,1184.2 1733.9,1184.7 C1735.1,1185.3 1736.3,1185.8 1737.6,1186.4 C1738.8,1186.9 1740.0,1187.5 1741.2,1188.0 C1742.4,1188.6 1743.6,1189.2 1744.9,1189.7 C1746.1,1190.3 1747.3,1190.8 1748.5,1191.4 C1749.7,1192.0 1750.9,1192.5 1752.1,1193.1 C1753.3,1193.7 1754.6,1194.3 1755.8,1194.8 C1757.0,1195.4 1758.2,1196.0 1759.4,1196.6 C1760.6,1197.1 1761.8,1197.7 1763.0,1198.3 C1764.2,1198.9 1765.4,1199.5 1766.6,1200.0 C1767.8,1200.6 1769.0,1201.2 1770.2,1201.8 C1771.4,1202.4 1772.6,1203.0 1773.8,1203.6 C1775.0,1204.2 1776.2,1204.8 1777.4,1205.4 C1778.6,1205.9 1779.8,1206.5 1781.0,1207.1 C1782.2,1207.7 1783.4,1208.3 1784.6,1208.9 C1785.8,1209.5 1787.0,1210.1 1788.2,1210.8 C1789.4,1211.4 1790.6,1212.0 1791.8,1212.6 C1793.0,1213.2 1794.2,1213.8 1795.4,1214.4 C1796.6,1215.0 1797.8,1215.6 1799.0,1216.2 C1800.2,1216.9 1801.3,1217.5 1802.5,1218.1 C1803.7,1218.7 1804.9,1219.3 1806.1,1219.9 C1807.3,1220.6 1808.5,1221.2 1809.7,1221.8 C1810.8,1222.4 1812.0,1223.0 1813.2,1223.7 C1814.4,1224.3 1815.6,1224.9 1816.8,1225.5 C1818.0,1226.1 1819.2,1226.7 1820.3,1227.4 C1821.5,1228.0 1822.7,1228.6 1823.9,1229.2 C1825.1,1229.8 1826.3,1230.4 1827.5,1231.0 C1828.7,1231.6 1829.8,1232.2 1831.0,1232.8 C1832.2,1233.4 1833.4,1234.0 1834.6,1234.6 C1835.8,1235.2 1837.0,1235.8 1838.2,1236.4 C1839.4,1237.0 1840.6,1237.6 1841.8,1238.2 C1842.9,1238.8 1844.1,1239.3 1845.3,1239.9 C1846.5,1240.5 1847.7,1241.0 1848.9,1241.6 C1850.1,1242.2 1851.3,1242.7 1852.5,1243.3 C1853.7,1243.8 1854.9,1244.4 1856.1,1244.9 C1857.3,1245.5 1858.6,1246.0 1859.8,1246.5 C1861.0,1247.1 1862.2,1247.6 1863.4,1248.1 C1864.6,1248.6 1865.8,1249.1 1867.0,1249.6 C1868.3,1250.1 1869.5,1250.6 1870.7,1251.1 C1871.9,1251.6 1873.1,1252.1 1874.4,1252.5 C1875.6,1253.0 1876.8,1253.5 1878.0,1253.9 C1879.3,1254.4 1880.5,1254.8 1881.7,1255.2 C1883.0,1255.7 1884.2,1256.1 1885.5,1256.5 C1886.7,1256.9 1887.9,1257.3 1889.2,1257.7 C1890.4,1258.1 1891.7,1258.5 1892.9,1258.9 C1894.2,1259.2 1895.5,1259.6 1896.7,1260.0 C1898.0,1260.3 1899.2,1260.7 1900.5,1261.0 C1901.8,1261.3 1903.0,1261.6 1904.3,1261.9 C1905.6,1262.2 1906.9,1262.5 1908.1,1262.8 C1909.4,1263.1 1910.7,1263.4 1912.0,1263.6 C1913.3,1263.9 1914.6,1264.1 1915.9,1264.3 C1917.2,1264.6 1918.5,1264.8 1919.8,1265.0 C1921.1,1265.2 1922.4,1265.4 1923.7,1265.6 C1925.0,1265.8 1926.3,1265.9 1927.6,1266.1 C1929.0,1266.2 1930.3,1266.4 1931.6,1266.5 C1932.9,1266.6 1934.2,1266.8 1935.6,1266.9 C1936.9,1267.0 1938.2,1267.1 1939.6,1267.2 C1940.9,1267.3 1942.2,1267.3 1943.6,1267.4 C1944.9,1267.5 1946.2,1267.5 1947.6,1267.6 C1948.9,1267.6 1950.3,1267.7 1951.6,1267.7 C1952.9,1267.7 1954.3,1267.7 1955.6,1267.7 C1957.0,1267.7 1958.3,1267.7 1959.7,1267.7 C1961.0,1267.7 1962.4,1267.7 1963.7,1267.6 C1965.1,1267.6 1966.4,1267.6 1967.8,1267.5 C1969.1,1267.5 1970.5,1267.4 1971.8,1267.3 C1973.2,1267.3 1974.5,1267.2 1975.9,1267.1 C1977.3,1267.0 1978.6,1266.9 1980.0,1266.8 C1981.3,1266.7 1982.7,1266.6 1984.0,1266.5 C1985.4,1266.3 1986.7,1266.2 1988.1,1266.1 C1989.4,1265.9 1990.8,1265.8 1992.1,1265.7 C1993.5,1265.5 1994.8,1265.3 1996.2,1265.2 C1997.5,1265.0 1998.9,1264.8 2000.2,1264.7 C2001.6,1264.5 2002.9,1264.3 2004.3,1264.1 C2005.6,1263.9 2007.0,1263.7 2008.3,1263.5 C2009.7,1263.3 2011.0,1263.1 2012.3,1262.9 C2013.7,1262.7 2015.0,1262.4 2016.3,1262.2 C2017.7,1262.0 2019.0,1261.7 2020.3,1261.5 C2021.7,1261.3 2023.0,1261.0 2024.3,1260.8 C2025.7,1260.5 2027.0,1260.2 2028.3,1260.0 C2029.6,1259.7 2030.9,1259.5 2032.3,1259.2 C2033.6,1258.9 2034.9,1258.6 2036.2,1258.4 C2037.5,1258.1 2038.8,1257.8 2040.1,1257.5 C2041.4,1257.2 2042.7,1256.9 2044.0,1256.6 C2045.3,1256.3 2046.6,1256.0 2047.9,1255.7 C2049.2,1255.4 2050.5,1255.1 2051.8,1254.7 C2053.0,1254.4 2054.3,1254.1 2055.6,1253.8 C2056.9,1253.4 2058.2,1253.1 2059.5,1252.7 C2060.7,1252.4 2062.0,1252.0 2063.3,1251.7 C2064.6,1251.3 2065.8,1251.0 2067.1,1250.6 C2068.4,1250.2 2069.6,1249.9 2070.9,1249.5 C2072.2,1249.1 2073.4,1248.7 2074.7,1248.3 C2075.9,1248.0 2077.2,1247.6 2078.4,1247.2 C2079.7,1246.8 2080.9,1246.4 2082.2,1246.0 C2083.4,1245.5 2084.7,1245.1 2085.9,1244.7 C2087.2,1244.3 2088.4,1243.8 2089.7,1243.4 C2090.9,1243.0 2092.1,1242.5 2093.4,1242.1 C2094.6,1241.6 2095.8,1241.2 2097.1,1240.7 C2098.3,1240.3 2099.5,1239.8 2100.8,1239.3 C2102.0,1238.9 2103.2,1238.4 2104.4,1237.9 C2105.7,1237.4 2106.9,1236.9 2108.1,1236.4 C2109.3,1235.9 2110.6,1235.4 2111.8,1234.9 C2113.0,1234.4 2114.2,1233.9 2115.4,1233.4 C2116.6,1232.9 2117.8,1232.3 2119.0,1231.8 C2120.3,1231.3 2121.5,1230.7 2122.7,1230.2 C2123.9,1229.6 2125.1,1229.1 2126.3,1228.5 C2127.5,1228.0 2128.7,1227.4 2129.9,1226.8 C2131.1,1226.2 2132.3,1225.7 2133.5,1225.1 C2134.7,1224.5 2135.9,1223.9 2137.1,1223.3 C2138.3,1222.7 2139.4,1222.1 2140.6,1221.5 C2141.8,1220.8 2143.0,1220.2 2144.2,1219.6 C2145.4,1219.0 2146.6,1218.3 2147.8,1217.7 C2148.9,1217.0 2150.1,1216.4 2151.3,1215.7 C2152.5,1215.1 2153.7,1214.4 2154.8,1213.8 C2156.0,1213.1 2157.2,1212.4 2158.3,1211.7 C2159.5,1211.1 2160.7,1210.4 2161.8,1209.7 C2163.0,1209.0 2164.2,1208.3 2165.3,1207.6 C2166.5,1206.9 2167.6,1206.2 2168.8,1205.5 C2169.9,1204.8 2171.1,1204.1 2172.2,1203.4 C2173.4,1202.7 2174.5,1202.0 2175.7,1201.3 C2176.8,1200.6 2177.9,1199.9 2179.1,1199.1 C2180.2,1198.4 2181.3,1197.7 2182.4,1197.0 C2183.6,1196.2 2184.7,1195.5 2185.8,1194.8 C2186.9,1194.1 2188.0,1193.3 2189.1,1192.6 C2190.2,1191.9 2191.3,1191.2 2192.4,1190.4 C2193.5,1189.7 2194.6,1189.0 2195.7,1188.2 C2196.7,1187.5 2197.8,1186.8 2198.9,1186.0 C2199.9,1185.3 2201.0,1184.6 2202.1,1183.9 C2203.1,1183.1 2204.2,1182.4 2205.2,1181.7 C2206.3,1180.9 2207.3,1180.2 2208.3,1179.5 C2209.4,1178.8 2210.1,1177.5 2211.4,1177.3 C2212.7,1177.2 2215.2,1178.4 2216.0,1178.6"/>
<path stroke="#EF4040" d="M155.0,1274.8 C155.8,1275.2 157.2,1278.1 159.5,1277.2 C161.8,1276.3 166.1,1270.1 169.0,1269.2 C171.9,1268.3 173.2,1269.9 176.9,1271.6 C180.6,1273.3 185.1,1278.3 191.1,1279.5 C197.1,1280.7 206.9,1278.2 213.2,1278.7 C219.5,1279.2 223.8,1283.2 229.1,1282.7 C234.4,1282.2 239.1,1277.2 244.9,1275.6 C250.7,1274.0 259.2,1272.8 263.8,1273.2 C268.4,1273.6 268.6,1277.4 272.2,1278.0 C275.8,1278.6 280.4,1278.0 285.2,1276.7 C289.9,1275.4 293.8,1269.3 300.7,1270.2 C307.6,1271.1 318.9,1281.2 326.7,1281.9 C334.5,1282.6 340.9,1274.3 347.5,1274.1 C354.1,1273.9 361.5,1279.5 366.1,1280.7 C370.7,1281.9 373.1,1281.6 375.3,1281.2 C377.5,1280.8 377.8,1281.1 379.3,1278.6 C380.8,1276.1 382.5,1270.5 384.4,1266.4 C386.3,1262.3 388.5,1258.3 390.5,1254.2 C392.5,1250.1 394.6,1246.1 396.6,1242.0 C398.6,1237.9 400.3,1233.7 402.7,1229.8 C405.1,1225.9 408.2,1222.3 410.8,1218.6 C413.4,1214.9 415.6,1211.4 418.0,1207.5 C420.4,1203.6 422.6,1199.7 425.1,1195.3 C427.6,1190.9 430.7,1185.6 433.2,1181.0 C435.7,1176.4 437.9,1171.9 440.3,1167.8 C442.7,1163.7 445.1,1159.8 447.5,1156.6 C449.9,1153.4 452.1,1151.2 454.6,1148.5 C457.1,1145.8 460.2,1143.3 462.7,1140.3 C465.2,1137.2 466.9,1134.2 469.8,1130.2 C472.7,1126.2 476.4,1121.2 479.8,1116.3 C483.2,1111.4 486.9,1106.1 490.5,1101.0 C494.1,1095.9 497.9,1089.3 501.2,1085.7 C504.5,1082.1 507.0,1081.9 510.3,1079.6 C513.6,1077.3 517.4,1075.0 521.0,1072.0 C524.6,1069.0 527.9,1064.6 531.7,1061.3 C535.5,1058.0 539.6,1055.5 543.9,1052.2 C548.2,1048.9 552.5,1043.3 557.6,1041.5 C562.7,1039.7 569.6,1042.5 574.4,1041.5 C579.2,1040.5 582.0,1037.2 586.6,1035.4 C591.2,1033.6 597.2,1032.6 601.8,1030.8 C606.4,1029.0 610.7,1026.4 614.1,1024.7 C617.5,1023.1 617.9,1021.5 622.3,1020.9 C626.7,1020.3 634.4,1021.1 640.4,1020.9 C646.4,1020.7 652.5,1020.2 658.5,1019.8 C664.5,1019.4 671.0,1018.8 676.6,1018.6 C682.2,1018.4 687.5,1019.4 692.4,1018.6 C697.3,1017.9 701.0,1013.7 705.9,1014.1 C710.8,1014.5 716.5,1020.3 721.8,1020.9 C727.1,1021.5 732.3,1018.2 737.6,1017.5 C742.9,1016.8 747.8,1015.8 753.4,1016.4 C759.0,1017.0 765.9,1019.2 771.5,1020.9 C777.1,1022.6 782.0,1024.3 787.3,1026.6 C792.6,1028.9 797.5,1032.2 803.1,1034.5 C808.8,1036.8 815.6,1038.2 821.2,1040.1 C826.9,1042.0 831.7,1043.9 837.0,1045.8 C842.3,1047.7 847.1,1049.9 852.8,1051.4 C858.4,1052.9 865.6,1052.7 870.9,1054.8 C876.2,1056.9 879.6,1060.8 884.5,1063.8 C889.4,1066.8 894.6,1069.9 900.3,1072.9 C905.9,1075.9 912.8,1079.3 918.4,1081.9 C924.0,1084.5 928.9,1086.9 934.2,1088.7 C939.5,1090.5 944.4,1091.0 950.0,1092.5 C955.6,1094.0 962.8,1095.7 968.1,1097.7 C973.4,1099.7 976.0,1102.6 981.6,1104.5 C987.2,1106.4 996.0,1107.1 1002.0,1109.0 C1008.0,1110.9 1011.4,1113.7 1017.8,1115.8 C1024.2,1117.9 1032.9,1119.8 1040.4,1121.5 C1047.9,1123.2 1057.3,1125.2 1063.0,1126.0 C1068.7,1126.8 1069.8,1125.4 1074.3,1126.0 C1078.8,1126.6 1084.4,1129.0 1090.1,1129.4 C1095.8,1129.8 1102.9,1128.6 1108.2,1128.2 C1113.5,1127.8 1117.7,1126.7 1121.8,1127.1 C1125.9,1127.5 1129.0,1130.5 1133.1,1130.5 C1137.2,1130.5 1141.3,1126.9 1146.6,1127.1 C1151.9,1127.3 1158.7,1130.1 1164.7,1131.6 C1170.7,1133.1 1177.2,1135.6 1182.8,1136.2 C1188.4,1136.8 1192.2,1135.8 1198.6,1135.0 C1205.0,1134.2 1213.7,1132.2 1221.2,1131.6 C1228.7,1131.0 1236.3,1132.3 1243.8,1131.6 C1251.3,1130.8 1259.6,1126.5 1266.4,1127.1 C1273.2,1127.7 1279.6,1134.4 1284.5,1135.0 C1289.4,1135.6 1291.3,1130.3 1295.8,1130.5 C1300.3,1130.7 1307.1,1134.9 1311.6,1136.2 C1316.1,1137.5 1319.1,1138.6 1322.9,1138.4 C1326.7,1138.2 1329.7,1135.1 1334.2,1135.0 C1338.7,1134.9 1344.2,1136.6 1350.0,1138.0 C1355.8,1139.4 1362.9,1143.0 1369.3,1143.6 C1375.7,1144.2 1382.2,1142.3 1388.6,1141.7 C1395.0,1141.1 1402.1,1140.5 1407.9,1139.8 C1413.7,1139.1 1417.0,1137.6 1423.4,1137.8 C1429.8,1138.0 1439.4,1138.9 1446.5,1140.7 C1453.6,1142.5 1458.7,1147.8 1465.8,1148.5 C1472.9,1149.2 1481.9,1144.4 1489.0,1144.6 C1496.1,1144.8 1502.5,1148.4 1508.3,1149.4 C1514.1,1150.4 1517.9,1149.1 1523.7,1150.4 C1529.5,1151.7 1536.6,1156.0 1543.1,1157.1 C1549.5,1158.2 1556.0,1156.6 1562.4,1157.1 C1568.8,1157.6 1575.9,1160.0 1581.7,1160.0 C1587.5,1160.0 1592.3,1156.1 1597.1,1157.1 C1601.9,1158.1 1605.1,1164.0 1610.6,1165.8 C1616.1,1167.6 1624.1,1167.1 1629.9,1167.8 C1635.7,1168.5 1640.6,1168.7 1645.4,1169.7 C1650.2,1170.7 1653.4,1172.0 1658.9,1173.6 C1664.4,1175.2 1671.8,1177.0 1678.2,1179.3 C1684.6,1181.5 1692.7,1185.3 1697.5,1187.1 C1702.3,1188.9 1703.2,1190.3 1707.1,1190.0 C1711.0,1189.7 1716.5,1185.1 1720.7,1185.1 C1724.9,1185.1 1727.3,1188.5 1732.2,1190.0 C1737.1,1191.5 1744.0,1193.3 1750.0,1194.3 C1756.0,1195.3 1762.7,1196.0 1768.5,1196.1 C1774.3,1196.2 1777.0,1194.2 1784.7,1195.0 C1792.4,1195.8 1805.2,1198.5 1814.9,1200.8 C1824.6,1203.1 1832.3,1206.6 1842.7,1208.9 C1853.1,1211.2 1867.8,1214.1 1877.4,1214.7 C1887.1,1215.3 1893.3,1212.8 1900.6,1212.4 C1907.9,1212.0 1913.7,1211.2 1921.4,1212.4 C1929.1,1213.6 1941.1,1218.7 1946.9,1219.3 C1952.7,1219.9 1952.0,1215.4 1956.2,1215.8 C1960.5,1216.2 1965.1,1219.8 1972.4,1221.6 C1979.7,1223.3 1992.5,1225.3 2000.2,1226.3 C2007.9,1227.3 2012.5,1228.2 2018.7,1227.4 C2024.9,1226.6 2031.9,1223.1 2037.3,1221.6 C2042.7,1220.0 2045.0,1218.1 2051.2,1218.1 C2057.4,1218.1 2066.6,1220.4 2074.3,1221.6 C2082.0,1222.8 2089.8,1224.1 2097.5,1225.1 C2105.2,1226.1 2113.0,1225.9 2120.7,1227.4 C2128.4,1229.0 2137.6,1232.7 2143.8,1234.4 C2150.0,1236.1 2153.1,1237.0 2157.7,1237.8 C2162.3,1238.6 2167.3,1239.4 2171.6,1239.0 C2175.8,1238.6 2178.2,1235.3 2183.2,1235.5 C2188.2,1235.7 2196.2,1240.2 2201.7,1240.2 C2207.2,1240.2 2213.6,1236.3 2216.0,1235.5"/>
<path stroke="#1A6DDF" d="M155.0,1126.0 C156.8,1124.7 159.1,1118.6 165.6,1118.2 C172.1,1117.8 183.5,1123.2 194.2,1123.4 C204.9,1123.6 223.0,1119.4 230.0,1119.1 C237.0,1118.8 232.9,1122.5 236.3,1121.5 C239.7,1120.5 245.6,1113.6 250.6,1112.8 C255.6,1112.0 261.7,1117.2 266.4,1116.8 C271.1,1116.4 273.7,1110.9 279.0,1110.4 C284.3,1109.9 292.2,1112.1 298.0,1113.6 C303.8,1115.0 309.3,1118.6 313.8,1119.1 C318.3,1119.6 320.9,1118.5 324.9,1116.8 C328.8,1115.1 333.3,1110.6 337.5,1108.9 C341.7,1107.2 344.6,1107.0 350.0,1106.5 C355.4,1106.0 364.6,1106.0 370.0,1105.6 C375.4,1105.2 378.1,1104.8 382.2,1104.0 C386.3,1103.2 389.8,1101.8 394.4,1101.0 C399.0,1100.2 405.4,1101.3 409.7,1099.5 C414.0,1097.7 416.2,1093.6 420.3,1090.3 C424.4,1087.0 429.8,1083.4 434.1,1079.6 C438.4,1075.8 442.5,1072.0 446.3,1067.4 C450.1,1062.8 453.3,1056.3 456.9,1052.2 C460.4,1048.1 463.8,1046.6 467.6,1043.0 C471.4,1039.4 476.0,1034.9 479.8,1030.8 C483.6,1026.7 486.9,1022.7 490.5,1018.6 C494.1,1014.5 497.6,1010.5 501.2,1006.4 C504.8,1002.3 508.3,998.8 511.9,994.2 C515.4,989.6 519.0,984.1 522.5,979.0 C526.0,973.9 529.4,968.0 533.2,963.7 C537.0,959.4 540.8,956.5 545.4,953.0 C550.0,949.5 555.6,946.2 560.7,942.4 C565.8,938.6 571.6,934.0 575.9,930.2 C580.2,926.4 582.8,923.3 586.6,919.5 C590.4,915.7 595.2,911.6 598.8,907.3 C602.4,903.0 604.5,896.4 608.0,893.6 C611.5,890.8 615.4,892.3 620.0,890.5 C624.6,888.7 631.0,886.1 635.9,883.0 C640.8,879.9 645.3,874.6 649.4,871.8 C653.5,869.0 656.2,867.4 660.7,866.1 C665.2,864.8 671.7,864.7 676.6,863.8 C681.5,862.9 684.8,861.8 690.1,860.5 C695.4,859.2 702.2,857.0 708.2,855.9 C714.2,854.8 720.3,854.5 726.3,853.7 C732.3,853.0 738.4,851.8 744.4,851.4 C750.4,851.0 757.1,850.6 762.4,851.4 C767.7,852.1 771.9,854.0 776.0,855.9 C780.1,857.8 782.8,861.6 787.3,862.7 C791.8,863.8 797.8,863.5 803.1,862.7 C808.4,862.0 813.6,857.6 818.9,858.2 C824.2,858.8 829.8,864.2 834.7,866.1 C839.6,868.0 843.8,867.8 848.3,869.5 C852.8,871.2 856.2,873.8 861.9,876.3 C867.5,878.8 876.9,883.3 882.2,884.2 C887.5,885.1 888.6,881.1 893.5,881.9 C898.4,882.6 904.8,887.4 911.6,888.7 C918.4,890.0 927.8,888.8 934.2,889.8 C940.6,890.8 944.7,893.9 950.0,894.5 C955.3,895.1 960.9,892.4 965.8,893.5 C970.7,894.6 974.9,899.9 979.4,901.4 C983.9,902.9 988.4,901.4 992.9,902.5 C997.4,903.6 1000.9,907.5 1006.5,908.2 C1012.1,909.0 1021.1,908.1 1026.8,907.0 C1032.5,905.9 1035.1,901.8 1040.4,901.4 C1045.7,901.0 1052.1,902.9 1058.5,904.8 C1064.9,906.7 1072.8,911.2 1078.8,912.7 C1084.8,914.2 1088.9,912.8 1094.6,913.8 C1100.2,914.8 1106.7,916.9 1112.7,918.4 C1118.7,919.9 1125.9,921.6 1130.8,922.9 C1135.7,924.2 1136.4,925.7 1142.1,926.3 C1147.8,926.9 1157.9,926.5 1164.7,926.3 C1171.5,926.1 1177.5,924.0 1182.8,925.1 C1188.1,926.2 1191.0,931.5 1196.3,933.0 C1201.6,934.5 1208.0,933.6 1214.4,934.2 C1220.8,934.8 1228.7,935.1 1234.7,936.4 C1240.7,937.7 1245.3,940.4 1250.6,942.1 C1255.9,943.8 1260.0,946.0 1266.4,946.6 C1272.8,947.2 1283.0,944.2 1289.0,945.5 C1295.0,946.8 1296.8,951.4 1302.5,954.2 C1308.2,957.0 1316.9,959.7 1322.9,962.1 C1328.9,964.5 1334.2,968.0 1338.7,968.9 C1343.2,969.8 1344.3,967.3 1350.0,967.6 C1355.7,967.9 1366.6,970.4 1372.6,970.9 C1378.6,971.4 1380.5,971.8 1386.2,970.9 C1391.9,970.0 1400.5,966.0 1406.5,965.3 C1412.5,964.5 1417.4,964.5 1422.3,966.4 C1427.2,968.3 1431.0,975.5 1435.9,976.6 C1440.8,977.7 1446.4,973.0 1451.7,973.2 C1457.0,973.4 1462.6,975.6 1467.5,977.7 C1472.4,979.8 1476.6,984.3 1481.1,985.6 C1485.6,986.9 1490.1,986.4 1494.6,985.6 C1499.1,984.9 1502.9,981.1 1508.2,981.1 C1513.5,981.1 1521.0,984.9 1526.3,985.6 C1531.6,986.4 1535.3,984.7 1539.8,985.6 C1544.3,986.5 1548.9,990.6 1553.4,991.2 C1557.9,991.8 1562.8,988.6 1566.9,989.0 C1571.0,989.4 1572.9,993.3 1578.2,993.5 C1583.5,993.7 1592.2,990.5 1598.6,990.1 C1605.0,989.7 1611.4,989.9 1616.7,991.2 C1622.0,992.5 1624.9,996.3 1630.2,998.0 C1635.5,999.7 1642.3,999.5 1648.3,1001.4 C1654.3,1003.3 1661.5,1007.8 1666.4,1009.3 C1671.3,1010.8 1673.2,1011.1 1677.7,1010.5 C1682.2,1009.9 1687.8,1005.0 1693.5,1005.9 C1699.2,1006.8 1706.3,1014.2 1711.6,1016.1 C1716.9,1018.0 1718.7,1018.0 1725.1,1017.2 C1731.5,1016.4 1742.0,1012.7 1750.0,1011.3 C1758.0,1009.9 1765.5,1007.8 1773.2,1008.7 C1780.9,1009.6 1787.8,1015.4 1796.3,1016.8 C1804.8,1018.1 1814.4,1014.9 1824.1,1016.8 C1833.8,1018.7 1847.2,1027.8 1854.2,1028.4 C1861.2,1029.0 1860.4,1019.7 1865.8,1020.3 C1871.2,1020.9 1878.2,1031.3 1886.7,1031.9 C1895.2,1032.5 1905.6,1024.6 1916.8,1023.8 C1928.0,1023.0 1945.0,1025.9 1953.9,1027.3 C1962.8,1028.7 1965.5,1031.9 1970.1,1031.9 C1974.7,1031.9 1977.1,1026.7 1981.7,1027.3 C1986.3,1027.9 1993.7,1035.0 1997.9,1035.4 C2002.1,1035.8 1999.8,1028.6 2007.1,1029.6 C2014.4,1030.6 2033.8,1040.4 2041.9,1041.2 C2050.0,1042.0 2049.2,1036.7 2055.8,1034.2 C2062.4,1031.7 2074.4,1027.2 2081.3,1026.1 C2088.2,1024.9 2093.2,1025.9 2097.5,1027.3 C2101.8,1028.7 2102.6,1032.3 2106.8,1034.2 C2111.1,1036.1 2116.1,1039.0 2123.0,1038.8 C2129.9,1038.6 2141.9,1033.0 2148.5,1033.0 C2155.1,1033.0 2156.2,1037.8 2162.4,1038.8 C2168.6,1039.8 2178.2,1039.6 2185.5,1038.8 C2192.8,1038.0 2202.7,1033.4 2206.4,1034.2 C2210.1,1035.0 2205.9,1042.5 2207.5,1043.5 C2209.1,1044.5 2214.6,1040.6 2216.0,1040.0"/>
<path stroke="#38AD6B" d="M155.0,1032.2 C157.9,1032.0 166.7,1033.0 172.6,1031.1 C178.5,1029.2 186.2,1022.0 190.7,1020.9 C195.2,1019.8 195.2,1025.0 199.7,1024.3 C204.2,1023.5 212.8,1017.7 217.8,1016.4 C222.9,1015.1 225.9,1017.7 230.0,1016.4 C234.1,1015.1 238.4,1010.6 242.6,1008.5 C246.8,1006.4 251.3,1006.1 255.3,1003.7 C259.3,1001.3 263.5,996.5 266.4,994.2 C269.3,991.9 270.3,992.4 272.9,989.7 C275.5,987.0 278.6,982.4 281.8,978.0 C285.0,973.6 288.1,968.9 292.0,963.3 C295.9,957.7 301.4,950.6 305.3,944.2 C309.2,937.8 312.1,931.5 315.5,925.1 C318.9,918.7 322.9,912.4 325.8,906.0 C328.8,899.6 331.0,893.3 333.2,886.9 C335.4,880.5 336.8,873.7 339.0,867.8 C341.2,861.9 344.2,857.3 346.4,851.7 C348.6,846.1 350.4,839.9 352.3,834.0 C354.2,828.1 355.9,822.8 358.1,816.4 C360.3,810.0 363.1,801.9 365.5,795.8 C367.9,789.7 370.4,785.3 372.8,779.7 C375.2,774.1 377.8,768.2 380.2,762.0 C382.6,755.8 385.4,748.5 387.5,742.7 C389.6,737.0 390.8,732.6 392.5,727.5 C394.2,722.4 395.9,717.0 397.6,712.2 C399.3,707.5 401.0,703.2 402.7,699.0 C404.4,694.8 406.1,691.0 407.8,686.8 C409.5,682.6 411.4,677.8 412.9,673.6 C414.4,669.4 415.5,665.3 416.9,661.4 C418.2,657.5 419.6,653.9 421.0,650.2 C422.4,646.5 423.6,642.7 425.1,639.0 C426.6,635.3 428.5,631.4 430.2,627.8 C431.9,624.2 433.4,621.0 435.3,617.6 C437.2,614.2 439.2,610.9 441.4,607.5 C443.6,604.1 446.1,601.5 448.5,597.3 C450.9,593.0 452.5,587.4 455.8,582.0 C459.1,576.6 464.0,569.6 468.5,565.2 C473.0,560.8 478.5,558.9 482.7,555.7 C486.9,552.5 489.9,549.6 493.8,546.2 C497.8,542.8 502.4,538.6 506.4,535.2 C510.3,531.8 513.8,527.8 517.5,525.7 C521.2,523.6 525.2,523.6 528.6,522.5 C532.0,521.4 535.7,518.2 538.1,519.3 C540.5,520.3 540.2,525.4 542.8,528.8 C545.4,532.2 550.2,536.5 553.9,539.9 C557.6,543.3 561.0,545.3 565.0,549.4 C569.0,553.5 573.9,561.1 577.9,564.7 C581.9,568.3 585.0,568.5 589.0,571.1 C593.0,573.8 597.4,577.4 601.6,580.6 C605.8,583.8 610.6,586.7 614.3,590.1 C618.0,593.5 620.6,597.2 623.8,601.1 C627.0,605.0 630.1,609.6 633.3,613.8 C636.5,618.0 639.6,622.4 642.8,626.4 C646.0,630.4 649.1,633.8 652.3,637.5 C655.5,641.2 658.6,644.9 661.8,648.6 C664.9,652.3 668.1,656.8 671.2,659.7 C674.4,662.6 677.3,663.9 680.7,666.0 C684.1,668.1 688.6,669.7 691.8,672.3 C695.0,674.9 696.8,679.4 699.7,681.8 C702.6,684.2 706.7,685.5 709.2,686.6 C711.8,687.8 712.2,687.1 715.0,688.7 C717.8,690.3 722.2,692.2 726.0,696.0 C729.8,699.8 733.0,706.9 737.6,711.3 C742.2,715.7 748.9,719.8 753.4,722.6 C757.9,725.4 760.9,727.1 764.7,728.2 C768.5,729.3 771.9,727.7 776.0,729.4 C780.1,731.1 785.0,735.8 789.5,738.4 C794.0,741.0 797.8,743.5 803.1,745.2 C808.4,746.9 815.9,747.3 821.2,748.6 C826.5,749.9 829.4,751.0 834.7,753.1 C840.0,755.2 846.8,759.1 852.8,761.0 C858.8,762.9 864.1,764.0 870.9,764.4 C877.7,764.8 886.7,762.7 893.5,763.3 C900.3,763.9 905.6,766.1 911.6,767.8 C917.6,769.5 923.3,771.9 929.7,773.4 C936.1,774.9 944.4,775.1 950.0,776.5 C955.6,777.9 959.5,779.6 963.6,781.6 C967.8,783.6 969.2,787.8 974.9,788.4 C980.5,789.0 991.5,784.8 997.5,785.0 C1003.5,785.2 1005.7,788.5 1011.0,789.5 C1016.3,790.5 1023.4,789.2 1029.1,790.7 C1034.8,792.2 1038.9,795.6 1044.9,798.6 C1050.9,801.6 1059.3,806.9 1065.3,808.8 C1071.3,810.7 1075.4,808.6 1081.1,809.9 C1086.8,811.2 1093.2,815.6 1099.2,816.7 C1105.2,817.8 1110.8,814.8 1117.2,816.7 C1123.6,818.6 1130.8,826.1 1137.6,828.0 C1144.4,829.9 1152.2,828.6 1157.9,828.0 C1163.6,827.4 1167.0,824.0 1171.5,824.6 C1176.0,825.2 1179.7,829.1 1185.0,831.4 C1190.3,833.6 1197.8,835.9 1203.1,838.1 C1208.4,840.4 1211.0,843.6 1216.7,844.9 C1222.4,846.2 1231.0,844.3 1237.0,846.0 C1243.0,847.7 1247.1,851.7 1252.8,855.1 C1258.5,858.5 1264.5,864.5 1270.9,866.4 C1277.3,868.3 1285.6,865.1 1291.2,866.4 C1296.8,867.7 1298.4,871.7 1304.8,874.3 C1311.2,876.9 1322.2,880.8 1329.7,882.2 C1337.2,883.7 1343.6,882.0 1350.0,883.0 C1356.4,884.0 1361.7,885.8 1368.1,888.4 C1374.5,891.0 1381.6,896.3 1388.4,898.6 C1395.2,900.9 1403.2,902.4 1408.8,902.0 C1414.4,901.6 1417.8,895.5 1422.3,896.3 C1426.8,897.0 1430.6,904.4 1435.9,906.5 C1441.2,908.6 1448.3,908.6 1454.0,908.8 C1459.7,909.0 1464.1,906.9 1469.8,907.6 C1475.5,908.4 1481.5,912.5 1487.9,913.3 C1494.3,914.0 1501.1,912.1 1508.2,912.1 C1515.3,912.1 1524.0,912.3 1530.8,913.3 C1537.6,914.2 1542.5,917.8 1548.9,917.8 C1555.3,917.8 1561.7,913.5 1569.2,913.3 C1576.7,913.1 1586.9,916.0 1594.1,916.7 C1601.2,917.5 1605.7,916.3 1612.1,917.8 C1618.5,919.3 1626.5,925.3 1632.5,925.7 C1638.5,926.1 1641.5,921.0 1648.3,920.1 C1655.1,919.2 1665.7,919.2 1673.2,920.1 C1680.7,921.0 1687.8,923.3 1693.5,925.7 C1699.2,928.1 1701.1,933.2 1707.1,934.7 C1713.1,936.2 1722.5,934.0 1729.7,934.7 C1736.9,935.5 1743.5,938.1 1750.0,939.2 C1756.5,940.3 1762.7,941.5 1768.5,941.5 C1774.3,941.5 1778.5,938.6 1784.7,939.2 C1790.9,939.8 1798.6,944.6 1805.6,945.0 C1812.5,945.4 1820.2,940.9 1826.4,941.5 C1832.6,942.1 1837.3,946.4 1842.7,948.5 C1848.1,950.6 1853.9,954.1 1858.9,954.3 C1863.9,954.5 1865.8,948.6 1872.8,949.6 C1879.8,950.6 1890.2,958.6 1900.6,960.1 C1911.0,961.6 1927.6,959.7 1935.3,958.9 C1943.0,958.1 1940.0,954.6 1946.9,955.4 C1953.9,956.2 1968.9,963.6 1977.0,963.6 C1985.1,963.6 1987.1,955.8 1995.6,955.4 C2004.1,955.0 2018.7,960.8 2028.0,961.2 C2037.3,961.6 2042.7,957.2 2051.2,957.8 C2059.7,958.4 2069.2,963.7 2078.9,964.7 C2088.6,965.7 2099.1,962.4 2109.1,963.6 C2119.1,964.8 2132.2,971.5 2139.2,971.7 C2146.1,971.9 2146.2,964.5 2150.8,964.7 C2155.4,964.9 2160.4,971.8 2167.0,972.8 C2173.6,973.8 2184.7,970.9 2190.2,970.5 C2195.7,970.1 2196.9,970.4 2200.0,970.5 C2203.1,970.6 2207.2,968.0 2209.0,971.0 C2210.8,974.0 2210.2,985.6 2210.5,988.5"/>
<path stroke="#AF77DD" d="M155.0,861.6 C157.9,861.0 167.4,859.5 172.6,858.2 C177.8,856.9 181.9,855.8 186.2,853.7 C190.5,851.6 194.6,845.8 198.6,845.8 C202.6,845.8 204.8,853.5 209.9,853.7 C215.0,853.9 224.0,848.8 229.1,846.9 C234.2,845.0 236.2,844.3 240.4,842.4 C244.6,840.5 250.2,838.2 254.0,835.6 C257.8,833.0 259.9,830.3 263.0,826.6 C266.1,822.9 269.9,817.3 272.4,813.4 C274.9,809.5 275.9,806.5 277.9,803.1 C279.9,799.7 282.1,796.3 284.2,792.8 C286.3,789.2 288.6,785.5 290.6,781.8 C292.6,778.1 294.4,774.3 296.1,770.7 C297.8,767.1 299.4,763.6 300.9,760.4 C302.3,757.2 303.4,754.9 304.8,751.7 C306.2,748.5 308.0,745.1 309.6,741.4 C311.2,737.7 312.7,733.4 314.3,729.6 C315.9,725.8 317.5,722.2 319.1,718.5 C320.7,714.8 322.2,711.0 323.8,707.4 C325.4,703.8 326.2,703.3 328.5,697.1 C330.8,690.9 334.5,678.2 337.3,670.1 C340.1,662.0 342.6,655.6 345.2,648.6 C347.8,641.6 350.5,635.4 353.1,628.2 C355.7,621.0 358.6,613.8 361.0,605.6 C363.4,597.4 364.8,589.0 367.4,579.0 C370.0,569.0 373.6,555.8 376.6,545.9 C379.7,536.0 382.6,528.8 385.7,519.9 C388.8,511.0 391.8,501.6 394.9,492.5 C397.9,483.4 400.9,473.1 404.0,465.0 C407.1,456.9 410.1,450.8 413.2,443.7 C416.2,436.6 419.2,428.9 422.3,422.3 C425.4,415.7 428.4,410.4 431.5,404.0 C434.6,397.6 437.3,390.3 440.6,384.2 C443.9,378.1 448.0,372.0 451.3,367.4 C454.6,362.8 457.2,360.3 460.6,356.4 C464.0,352.4 467.7,347.6 471.6,343.7 C475.6,339.8 480.3,335.6 484.3,332.7 C488.3,329.8 491.7,327.8 495.4,326.3 C499.1,324.9 503.0,323.7 506.4,324.0 C509.8,324.3 512.2,325.9 515.9,327.9 C519.6,329.9 524.4,333.2 528.6,335.8 C532.8,338.4 537.1,341.3 541.3,343.7 C545.5,346.1 549.7,347.5 553.9,350.1 C558.1,352.8 562.8,357.1 566.6,359.6 C570.4,362.1 573.8,362.7 576.8,364.9 C579.8,367.1 582.1,370.2 584.7,372.8 C587.3,375.4 590.2,378.4 592.6,380.7 C595.0,382.9 597.0,383.7 599.4,386.3 C601.8,388.9 604.7,393.3 607.3,396.5 C609.9,399.7 612.8,402.3 615.2,405.5 C617.7,408.7 619.7,412.3 622.0,415.7 C624.3,419.1 626.3,422.7 628.8,425.9 C631.2,429.1 634.1,432.3 636.7,434.9 C639.3,437.5 642.2,438.9 644.6,441.7 C647.0,444.5 649.1,448.9 651.4,451.9 C653.6,454.9 655.5,457.7 658.1,459.8 C660.7,461.9 664.4,462.1 667.2,464.3 C670.0,466.6 672.7,470.5 675.1,473.3 C677.5,476.1 679.5,478.8 681.9,481.2 C684.3,483.6 687.2,485.7 689.8,488.0 C692.4,490.3 695.1,492.7 697.7,494.8 C700.3,496.9 702.8,498.6 705.6,500.5 C708.4,502.4 712.0,504.2 714.6,506.1 C717.2,508.0 719.5,510.8 721.4,511.8 C723.3,512.9 722.8,511.0 726.3,512.4 C729.8,513.8 736.5,517.3 742.1,520.3 C747.8,523.3 755.3,528.4 760.2,530.5 C765.1,532.6 767.0,530.5 771.5,532.8 C776.0,535.1 782.0,540.3 787.3,544.1 C792.6,547.9 798.2,552.0 803.1,555.4 C808.0,558.8 811.4,561.2 816.7,564.4 C822.0,567.6 829.4,572.5 834.7,574.6 C840.0,576.7 842.3,574.7 848.3,576.8 C854.3,578.9 863.0,585.1 870.9,587.0 C878.8,588.9 889.0,587.1 895.8,588.1 C902.6,589.1 906.0,590.6 911.6,592.7 C917.2,594.8 923.3,598.7 929.7,600.6 C936.1,602.5 943.6,603.9 950.0,604.1 C956.4,604.3 962.1,602.0 968.1,602.0 C974.1,602.0 981.7,602.7 986.2,604.2 C990.7,605.7 989.9,608.9 995.2,611.0 C1000.5,613.1 1011.8,616.1 1017.8,616.7 C1023.8,617.3 1025.8,613.3 1031.4,614.4 C1037.1,615.5 1044.2,620.6 1051.7,623.4 C1059.2,626.2 1070.2,629.5 1076.6,631.4 C1083.0,633.3 1084.1,632.5 1090.1,634.7 C1096.1,637.0 1107.0,644.1 1112.7,644.9 C1118.4,645.7 1119.1,639.7 1124.0,639.3 C1128.9,638.9 1136.1,640.5 1142.1,642.7 C1148.1,645.0 1154.5,650.5 1160.2,652.8 C1165.9,655.0 1169.6,654.1 1176.0,656.2 C1182.4,658.3 1192.2,662.8 1198.6,665.3 C1205.0,667.8 1208.8,669.8 1214.4,670.9 C1220.1,672.0 1227.2,670.1 1232.5,672.0 C1237.8,673.9 1240.7,680.7 1246.0,682.2 C1251.3,683.7 1257.7,680.5 1264.1,681.1 C1270.5,681.7 1278.1,683.9 1284.5,685.6 C1290.9,687.3 1298.0,689.5 1302.5,691.2 C1307.0,692.9 1307.8,695.4 1311.6,695.8 C1315.4,696.2 1320.6,693.3 1325.1,693.5 C1329.6,693.7 1334.5,695.1 1338.7,696.9 C1342.9,698.6 1345.1,702.4 1350.0,704.0 C1354.9,705.6 1362.8,705.9 1368.1,706.5 C1373.4,707.1 1377.1,707.4 1381.6,707.6 C1386.1,707.8 1390.7,707.0 1395.2,707.6 C1399.7,708.2 1403.2,708.9 1408.8,711.0 C1414.4,713.1 1422.7,718.2 1429.1,720.1 C1435.5,722.0 1441.5,722.1 1447.2,722.3 C1452.9,722.5 1457.3,721.0 1463.0,721.2 C1468.7,721.4 1475.1,723.0 1481.1,723.4 C1487.1,723.8 1492.4,723.8 1499.2,723.4 C1506.0,723.0 1515.4,720.6 1521.8,721.2 C1528.2,721.8 1531.6,725.3 1537.6,726.8 C1543.6,728.3 1551.1,728.7 1557.9,730.2 C1564.7,731.7 1572.2,735.5 1578.2,735.9 C1584.2,736.3 1588.1,733.1 1594.1,732.5 C1600.1,731.9 1608.0,731.2 1614.4,732.5 C1620.8,733.8 1626.8,737.8 1632.5,740.4 C1638.2,743.0 1641.9,745.3 1648.3,748.3 C1654.7,751.3 1664.1,755.7 1670.9,758.5 C1677.7,761.3 1683.3,762.8 1689.0,765.3 C1694.7,767.8 1699.1,771.5 1704.8,773.2 C1710.5,774.9 1717.2,773.9 1722.9,775.4 C1728.6,776.9 1734.2,781.0 1738.7,782.2 C1743.2,783.4 1746.2,781.4 1750.0,782.5 C1753.8,783.6 1756.6,787.4 1761.6,788.6 C1766.6,789.8 1773.5,788.6 1780.1,789.8 C1786.7,791.0 1796.4,795.2 1801.0,795.6 C1805.6,796.0 1803.7,792.1 1807.9,792.1 C1812.1,792.1 1817.9,795.4 1826.4,795.6 C1834.9,795.8 1850.0,792.9 1858.9,793.3 C1867.8,793.7 1873.9,796.4 1879.7,797.9 C1885.5,799.4 1888.2,802.3 1893.6,802.5 C1899.0,802.7 1907.2,798.3 1912.2,799.1 C1917.2,799.9 1916.8,806.1 1923.7,807.2 C1930.7,808.4 1944.2,805.4 1953.9,806.0 C1963.6,806.6 1974.8,810.3 1981.7,810.7 C1988.7,811.1 1987.9,807.3 1995.6,808.3 C2003.3,809.2 2020.7,816.2 2028.0,816.4 C2035.3,816.6 2035.0,810.3 2039.6,809.5 C2044.2,808.7 2049.2,810.4 2055.8,811.8 C2062.4,813.1 2072.8,817.0 2079.0,817.6 C2085.2,818.2 2087.1,814.7 2092.9,815.3 C2098.7,815.9 2105.2,820.9 2113.7,821.1 C2122.2,821.3 2134.5,816.2 2143.8,816.4 C2153.1,816.6 2160.0,822.4 2169.3,822.2 C2178.6,822.0 2191.6,815.9 2199.4,815.3 C2207.2,814.7 2213.2,818.2 2216.0,818.8"/>
</g>
<rect x="338.0" y="1654" width="9" height="30" fill="#000"/><rect x="713.0" y="1654" width="9" height="30" fill="#000"/><rect x="1088.0" y="1654" width="9" height="30" fill="#000"/><rect x="1463.0" y="1654" width="9" height="30" fill="#000"/><rect x="1838.0" y="1654" width="9" height="30" fill="#000"/><rect x="150.5" y="1670" width="9" height="14" fill="#000"/><rect x="525.5" y="1670" width="9" height="14" fill="#000"/><rect x="900.5" y="1670" width="9" height="14" fill="#000"/><rect x="1275.5" y="1670" width="9" height="14" fill="#000"/><rect x="1650.5" y="1670" width="9" height="14" fill="#000"/><rect x="2025.5" y="1670" width="9" height="14" fill="#000"/>
<text transform="translate(343.0,1777) scale(1,1.045)" font-size="72" text-anchor="middle">100</text>
<text transform="translate(718.0,1777) scale(1,1.045)" font-size="72" text-anchor="middle">200</text>
<text transform="translate(1093.0,1777) scale(1,1.045)" font-size="72" text-anchor="middle">300</text>
<text transform="translate(1468.0,1777) scale(1,1.045)" font-size="72" text-anchor="middle">400</text>
<text transform="translate(1843.0,1777) scale(1,1.045)" font-size="72" text-anchor="middle">500</text>
<text transform="translate(2218.0,1777) scale(1,1.045)" font-size="72" text-anchor="middle">600</text>
<text x="1184.5" y="1913" font-size="88" text-anchor="middle">Temperature (°C)</text>
<text transform="translate(79,855.5) rotate(-90) scale(0.985,1)" x="0" y="0" font-size="88" text-anchor="middle">Intensity (a.u.)</text>
<rect x="1553" y="161.9" width="143" height="9" fill="#515151"/>
<text transform="translate(1730,192) scale(1,1.035)" font-size="71.2">0% Co</text>
<rect x="1553" y="252.1" width="143" height="9" fill="#EF4040"/>
<text transform="translate(1730,281.6) scale(1,1.035)" font-size="71.2">2% Co</text>
<rect x="1553" y="340.9" width="143" height="9" fill="#1A6DDF"/>
<text transform="translate(1730,370.8) scale(1,1.035)" font-size="71.2">4% Co</text>
<rect x="1553" y="429.8" width="143" height="9" fill="#38AD6B"/>
<text transform="translate(1730,460) scale(1,1.035)" font-size="71.2">6% Co</text>
<rect x="1553" y="520.0" width="143" height="9" fill="#AF77DD"/>
<text transform="translate(1730,549.5) scale(1,1.035)" font-size="71.2">8% Co</text>
<text transform="translate(447.0,214.6) scale(1,1.03)" font-size="56" text-anchor="middle">129</text>
<text transform="translate(551.3,228.6) scale(1,1.03)" font-size="56" text-anchor="middle">143</text>
<text transform="translate(529.0,673.9) scale(1,1.03)" font-size="56" text-anchor="middle">151</text>
<text transform="translate(780.6,808.3) scale(1,1.03)" font-size="56" text-anchor="middle">205</text>
<text transform="translate(669.5,1164.1) scale(1,1.03)" font-size="56" text-anchor="middle">192</text>
<text transform="translate(1545.8,1067.8) scale(1,1.03)" font-size="56" text-anchor="middle">404</text>
</svg></body></html>
